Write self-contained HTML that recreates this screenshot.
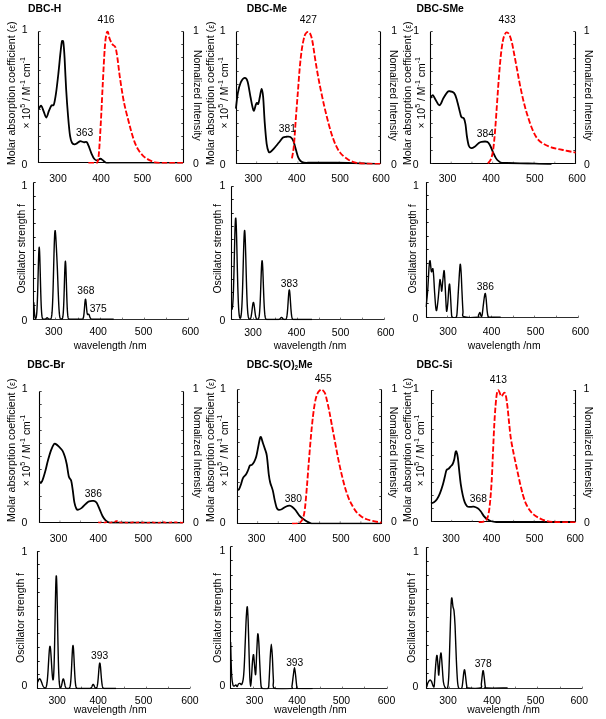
<!DOCTYPE html><html><head><meta charset="utf-8"><title>UV-vis and oscillator strength</title>
<style>html,body{margin:0;padding:0;background:#fff}svg{display:block}text{font-family:'Liberation Sans', Arial, sans-serif;fill:#000}</style></head><body>
<svg width="606" height="719" viewBox="0 0 606 719">
<rect width="606" height="719" fill="#fff"/>
<path d="M38.50 31.40 V162.50 H183.50 V31.40" fill="none" stroke="#000" stroke-width="1.1" stroke-linejoin="miter"/>
<line x1="38.50" y1="31.50" x2="40.70" y2="31.50" stroke="#222" stroke-width="0.85"/>
<line x1="183.50" y1="31.50" x2="181.30" y2="31.50" stroke="#222" stroke-width="0.85"/>
<line x1="38.50" y1="44.50" x2="40.70" y2="44.50" stroke="#222" stroke-width="0.85"/>
<line x1="183.50" y1="44.50" x2="181.30" y2="44.50" stroke="#222" stroke-width="0.85"/>
<line x1="38.50" y1="57.50" x2="40.70" y2="57.50" stroke="#222" stroke-width="0.85"/>
<line x1="183.50" y1="57.50" x2="181.30" y2="57.50" stroke="#222" stroke-width="0.85"/>
<line x1="38.50" y1="70.50" x2="40.70" y2="70.50" stroke="#222" stroke-width="0.85"/>
<line x1="183.50" y1="70.50" x2="181.30" y2="70.50" stroke="#222" stroke-width="0.85"/>
<line x1="38.50" y1="83.50" x2="40.70" y2="83.50" stroke="#222" stroke-width="0.85"/>
<line x1="183.50" y1="83.50" x2="181.30" y2="83.50" stroke="#222" stroke-width="0.85"/>
<line x1="38.50" y1="96.50" x2="40.70" y2="96.50" stroke="#222" stroke-width="0.85"/>
<line x1="183.50" y1="96.50" x2="181.30" y2="96.50" stroke="#222" stroke-width="0.85"/>
<line x1="38.50" y1="109.50" x2="40.70" y2="109.50" stroke="#222" stroke-width="0.85"/>
<line x1="183.50" y1="109.50" x2="181.30" y2="109.50" stroke="#222" stroke-width="0.85"/>
<line x1="38.50" y1="123.50" x2="40.70" y2="123.50" stroke="#222" stroke-width="0.85"/>
<line x1="183.50" y1="123.50" x2="181.30" y2="123.50" stroke="#222" stroke-width="0.85"/>
<line x1="38.50" y1="136.50" x2="40.70" y2="136.50" stroke="#222" stroke-width="0.85"/>
<line x1="183.50" y1="136.50" x2="181.30" y2="136.50" stroke="#222" stroke-width="0.85"/>
<line x1="38.50" y1="149.50" x2="40.70" y2="149.50" stroke="#222" stroke-width="0.85"/>
<line x1="183.50" y1="149.50" x2="181.30" y2="149.50" stroke="#222" stroke-width="0.85"/>
<line x1="38.50" y1="162.50" x2="40.70" y2="162.50" stroke="#222" stroke-width="0.85"/>
<line x1="183.50" y1="162.50" x2="181.30" y2="162.50" stroke="#222" stroke-width="0.85"/>
<clipPath id="c1"><rect x="37.50" y="27.40" width="147.10" height="136.20"/></clipPath>
<g clip-path="url(#c1)">
<path d="M38.89 108.73C39.28 108.24 40.42 105.32 41.23 105.81C42.04 106.29 42.92 109.70 43.76 111.65C44.61 113.60 45.42 117.65 46.29 117.49C47.17 117.33 48.14 112.69 49.02 110.67C49.90 108.66 50.74 106.46 51.55 105.42C52.36 104.38 53.14 106.49 53.89 104.44C54.63 102.40 55.28 98.28 56.03 93.15C56.78 88.02 57.65 80.17 58.37 73.68C59.08 67.19 59.76 59.40 60.31 54.21C60.86 49.01 61.32 44.73 61.68 42.52C62.03 40.32 62.16 40.90 62.45 40.97C62.75 41.03 63.07 40.06 63.43 42.91C63.79 45.77 64.14 50.38 64.60 58.10C65.05 65.83 65.57 79.52 66.15 89.26C66.74 98.99 67.45 108.73 68.10 116.52C68.75 124.30 69.40 131.61 70.05 135.99C70.70 140.37 71.25 141.41 72.00 142.80C72.74 144.20 73.72 144.26 74.53 144.36C75.34 144.46 75.92 143.91 76.86 143.39C77.80 142.87 79.04 141.44 80.17 141.24C81.31 141.05 82.61 142.09 83.68 142.22C84.75 142.35 85.79 141.44 86.60 142.02C87.41 142.61 87.74 143.81 88.55 145.72C89.36 147.64 90.49 151.31 91.47 153.51C92.44 155.72 93.41 157.81 94.39 158.96C95.36 160.12 96.34 160.49 97.31 160.46C98.28 160.43 99.26 158.77 100.23 158.77C101.20 158.77 102.18 159.79 103.15 160.46C104.12 161.13 104.77 162.37 106.07 162.77C107.37 163.18 110.13 162.88 110.94 162.90L183.10 162.90" fill="none" stroke="#000" stroke-width="1.8" stroke-linejoin="round" stroke-linecap="butt"/>
<path d="M88.38 163.00C89.65 163.00 94.48 163.10 95.97 163.00C97.47 162.90 96.85 163.97 97.34 162.38C97.82 160.80 98.31 160.18 98.89 153.51C99.48 146.84 100.19 134.04 100.84 122.36C101.49 110.67 102.14 95.75 102.79 83.41C103.44 71.08 104.15 56.48 104.74 48.37C105.32 40.25 105.77 37.49 106.29 34.74C106.81 31.98 107.30 31.17 107.85 31.82C108.40 32.46 108.82 36.52 109.60 38.63C110.38 40.74 111.55 43.01 112.52 44.47C113.50 45.93 114.62 45.05 115.45 47.39C116.27 49.73 116.79 53.73 117.50 58.50C118.21 63.27 118.82 69.75 119.70 76.00C120.58 82.25 121.87 90.60 122.80 96.00C123.73 101.40 124.32 104.12 125.30 108.40C126.28 112.68 127.65 117.65 128.70 121.70C129.75 125.75 130.55 129.13 131.60 132.70C132.65 136.27 133.85 140.22 135.00 143.10C136.15 145.98 137.15 147.88 138.50 150.00C139.85 152.12 141.37 154.15 143.10 155.80C144.83 157.45 146.97 158.84 148.90 159.93C150.83 161.01 152.78 161.79 154.70 162.30C156.62 162.81 158.52 162.88 160.40 163.00C162.28 163.12 162.13 163.00 166.00 163.00C169.87 163.00 180.67 163.00 183.60 163.00" fill="none" stroke="#f00" stroke-width="1.85" stroke-dasharray="5.6 2.1" stroke-linecap="butt" stroke-linejoin="round"/>
</g>
<text x="27.90" y="11.90" font-size="10.4" text-anchor="start" font-weight="bold" >DBC-H</text>
<text x="24.60" y="33.25" font-size="10.5" text-anchor="middle" font-weight="normal" >1</text>
<text x="24.50" y="167.85" font-size="10.5" text-anchor="middle" font-weight="normal" >0</text>
<text x="195.90" y="33.65" font-size="10.5" text-anchor="middle" font-weight="normal" >1</text>
<text x="195.80" y="167.15" font-size="10.5" text-anchor="middle" font-weight="normal" >0</text>
<text x="58.00" y="182.25" font-size="10.5" text-anchor="middle" font-weight="normal" >300</text>
<text x="101.00" y="182.25" font-size="10.5" text-anchor="middle" font-weight="normal" >400</text>
<text x="142.40" y="182.25" font-size="10.5" text-anchor="middle" font-weight="normal" >500</text>
<text x="183.40" y="182.25" font-size="10.5" text-anchor="middle" font-weight="normal" >600</text>
<text x="106.00" y="23.40" font-size="10.25" text-anchor="middle" font-weight="normal" >416</text>
<text x="84.60" y="136.00" font-size="10.25" text-anchor="middle" font-weight="normal" >363</text>
<text x="15.50" y="93.20" font-size="10.3" text-anchor="middle" font-weight="normal" transform="rotate(-90 15.50 93.20)" textLength="143.7" lengthAdjust="spacingAndGlyphs">Molar absorption coefficient (<tspan font-size="8.6">ε</tspan>)</text>
<text x="30.50" y="92.70" font-size="10.3" text-anchor="middle" font-weight="normal" transform="rotate(-90 30.50 92.70)" textLength="71.5" lengthAdjust="spacingAndGlyphs">× 10<tspan font-size="7" dy="-5.2">5</tspan><tspan dy="5.2"> / M</tspan><tspan font-size="7" dy="-5.2">-1</tspan><tspan dy="5.2"> cm</tspan><tspan font-size="7" dy="-5.2">-1</tspan></text>
<text x="194.00" y="95.30" font-size="10.3" text-anchor="middle" font-weight="normal" transform="rotate(90 194.00 95.30)" textLength="90.7" lengthAdjust="spacingAndGlyphs">Nomalized Intensity</text>
<path d="M236.50 31.80 V163.50 H380.50 V31.80" fill="none" stroke="#000" stroke-width="1.1" stroke-linejoin="miter"/>
<line x1="236.50" y1="31.50" x2="238.70" y2="31.50" stroke="#222" stroke-width="0.85"/>
<line x1="380.50" y1="31.50" x2="378.30" y2="31.50" stroke="#222" stroke-width="0.85"/>
<line x1="236.50" y1="44.50" x2="238.70" y2="44.50" stroke="#222" stroke-width="0.85"/>
<line x1="380.50" y1="44.50" x2="378.30" y2="44.50" stroke="#222" stroke-width="0.85"/>
<line x1="236.50" y1="58.50" x2="238.70" y2="58.50" stroke="#222" stroke-width="0.85"/>
<line x1="380.50" y1="58.50" x2="378.30" y2="58.50" stroke="#222" stroke-width="0.85"/>
<line x1="236.50" y1="71.50" x2="238.70" y2="71.50" stroke="#222" stroke-width="0.85"/>
<line x1="380.50" y1="71.50" x2="378.30" y2="71.50" stroke="#222" stroke-width="0.85"/>
<line x1="236.50" y1="84.50" x2="238.70" y2="84.50" stroke="#222" stroke-width="0.85"/>
<line x1="380.50" y1="84.50" x2="378.30" y2="84.50" stroke="#222" stroke-width="0.85"/>
<line x1="236.50" y1="97.50" x2="238.70" y2="97.50" stroke="#222" stroke-width="0.85"/>
<line x1="380.50" y1="97.50" x2="378.30" y2="97.50" stroke="#222" stroke-width="0.85"/>
<line x1="236.50" y1="110.50" x2="238.70" y2="110.50" stroke="#222" stroke-width="0.85"/>
<line x1="380.50" y1="110.50" x2="378.30" y2="110.50" stroke="#222" stroke-width="0.85"/>
<line x1="236.50" y1="123.50" x2="238.70" y2="123.50" stroke="#222" stroke-width="0.85"/>
<line x1="380.50" y1="123.50" x2="378.30" y2="123.50" stroke="#222" stroke-width="0.85"/>
<line x1="236.50" y1="136.50" x2="238.70" y2="136.50" stroke="#222" stroke-width="0.85"/>
<line x1="380.50" y1="136.50" x2="378.30" y2="136.50" stroke="#222" stroke-width="0.85"/>
<line x1="236.50" y1="150.50" x2="238.70" y2="150.50" stroke="#222" stroke-width="0.85"/>
<line x1="380.50" y1="150.50" x2="378.30" y2="150.50" stroke="#222" stroke-width="0.85"/>
<line x1="236.50" y1="163.50" x2="238.70" y2="163.50" stroke="#222" stroke-width="0.85"/>
<line x1="380.50" y1="163.50" x2="378.30" y2="163.50" stroke="#222" stroke-width="0.85"/>
<line x1="256.64" y1="163.20" x2="256.64" y2="161.40" stroke="#444" stroke-width="0.6"/>
<line x1="277.29" y1="163.20" x2="277.29" y2="161.40" stroke="#444" stroke-width="0.6"/>
<line x1="297.93" y1="163.20" x2="297.93" y2="161.40" stroke="#444" stroke-width="0.6"/>
<line x1="318.57" y1="163.20" x2="318.57" y2="161.40" stroke="#444" stroke-width="0.6"/>
<line x1="339.21" y1="163.20" x2="339.21" y2="161.40" stroke="#444" stroke-width="0.6"/>
<line x1="359.86" y1="163.20" x2="359.86" y2="161.40" stroke="#444" stroke-width="0.6"/>
<clipPath id="c2"><rect x="235.00" y="27.80" width="146.50" height="136.70"/></clipPath>
<g clip-path="url(#c2)">
<path d="M235.89 108.73C236.22 106.13 237.03 97.53 237.84 93.15C238.65 88.77 239.63 84.97 240.76 82.44C241.90 79.91 243.52 78.12 244.66 77.96C245.79 77.80 246.60 78.29 247.58 81.47C248.55 84.65 249.69 92.83 250.50 97.04C251.31 101.26 251.86 104.51 252.45 106.78C253.03 109.05 253.45 111.00 254.00 110.67C254.55 110.35 255.27 106.13 255.76 104.83C256.24 103.54 256.50 103.05 256.92 102.89C257.35 102.72 257.80 104.83 258.29 103.86C258.77 102.89 259.29 99.54 259.84 97.04C260.40 94.55 261.04 88.87 261.60 88.87C262.15 88.87 262.64 91.46 263.15 97.04C263.67 102.63 264.13 114.57 264.71 122.36C265.30 130.15 266.01 138.91 266.66 143.78C267.31 148.64 267.99 150.20 268.61 151.56C269.22 152.93 269.48 152.44 270.36 151.95C271.24 151.47 272.47 150.17 273.86 148.64C275.26 147.12 277.21 144.65 278.73 142.80C280.26 140.95 281.72 138.55 283.02 137.55C284.31 136.54 285.29 136.86 286.52 136.77C287.75 136.67 289.28 136.28 290.41 136.96C291.55 137.64 292.43 138.75 293.34 140.86C294.24 142.96 295.06 146.86 295.87 149.62C296.68 152.38 297.42 155.52 298.20 157.41C298.98 159.30 299.57 160.09 300.54 160.96C301.51 161.84 302.13 162.38 304.04 162.67C305.95 162.96 307.67 162.69 312.00 162.70C316.33 162.71 324.00 162.66 330.00 162.70C336.00 162.74 342.33 162.82 348.00 162.95C353.67 163.08 359.33 163.36 364.00 163.50C368.67 163.64 374.00 163.75 376.00 163.80L380.00 163.80" fill="none" stroke="#000" stroke-width="1.8" stroke-linejoin="round" stroke-linecap="butt"/>
<path d="M291.95 158.38C292.27 156.27 293.25 152.38 293.89 145.72C294.54 139.07 295.19 127.23 295.84 118.46C296.49 109.70 297.14 101.59 297.79 93.15C298.44 84.71 299.09 74.98 299.74 67.84C300.38 60.70 301.03 55.02 301.68 50.31C302.33 45.61 302.98 42.36 303.63 39.60C304.28 36.85 304.77 35.03 305.58 33.76C306.39 32.50 307.59 31.69 308.50 32.01C309.41 32.33 310.28 33.63 311.03 35.71C311.78 37.79 312.26 40.41 312.98 44.47C313.69 48.53 314.33 54.01 315.31 60.05C316.30 66.09 317.47 73.27 318.90 80.70C320.33 88.13 322.25 97.32 323.90 104.60C325.55 111.88 327.15 118.43 328.80 124.40C330.45 130.37 331.97 135.75 333.80 140.40C335.63 145.05 337.48 149.17 339.80 152.30C342.12 155.43 345.05 157.49 347.70 159.20C350.35 160.91 352.82 161.82 355.70 162.57C358.58 163.32 360.87 163.48 365.00 163.70C369.13 163.92 377.92 163.87 380.50 163.90" fill="none" stroke="#f00" stroke-width="1.85" stroke-dasharray="5.6 2.1" stroke-linecap="butt" stroke-linejoin="round"/>
</g>
<text x="246.70" y="11.90" font-size="10.4" text-anchor="start" font-weight="bold" >DBC-Me</text>
<text x="222.60" y="33.65" font-size="10.5" text-anchor="middle" font-weight="normal" >1</text>
<text x="222.60" y="167.85" font-size="10.5" text-anchor="middle" font-weight="normal" >0</text>
<text x="394.10" y="33.65" font-size="10.5" text-anchor="middle" font-weight="normal" >1</text>
<text x="393.90" y="167.75" font-size="10.5" text-anchor="middle" font-weight="normal" >0</text>
<text x="253.30" y="182.25" font-size="10.5" text-anchor="middle" font-weight="normal" >300</text>
<text x="296.80" y="182.25" font-size="10.5" text-anchor="middle" font-weight="normal" >400</text>
<text x="340.10" y="182.25" font-size="10.5" text-anchor="middle" font-weight="normal" >500</text>
<text x="381.00" y="182.25" font-size="10.5" text-anchor="middle" font-weight="normal" >600</text>
<text x="308.30" y="23.40" font-size="10.25" text-anchor="middle" font-weight="normal" >427</text>
<text x="287.30" y="132.00" font-size="10.25" text-anchor="middle" font-weight="normal" >381</text>
<text x="214.00" y="93.20" font-size="10.3" text-anchor="middle" font-weight="normal" transform="rotate(-90 214.00 93.20)" textLength="143.7" lengthAdjust="spacingAndGlyphs">Molar absorption coefficient (<tspan font-size="8.6">ε</tspan>)</text>
<text x="227.90" y="92.70" font-size="10.3" text-anchor="middle" font-weight="normal" transform="rotate(-90 227.90 92.70)" textLength="71.5" lengthAdjust="spacingAndGlyphs">× 10<tspan font-size="7" dy="-5.2">5</tspan><tspan dy="5.2"> / M</tspan><tspan font-size="7" dy="-5.2">-1</tspan><tspan dy="5.2"> cm</tspan><tspan font-size="7" dy="-5.2">-1</tspan></text>
<text x="389.70" y="95.30" font-size="10.3" text-anchor="middle" font-weight="normal" transform="rotate(90 389.70 95.30)" textLength="90.7" lengthAdjust="spacingAndGlyphs">Nomalized Intensity</text>
<path d="M430.50 31.80 V163.50 H575.50 V31.80" fill="none" stroke="#000" stroke-width="1.1" stroke-linejoin="miter"/>
<line x1="430.50" y1="31.50" x2="432.70" y2="31.50" stroke="#222" stroke-width="0.85"/>
<line x1="575.50" y1="31.50" x2="573.30" y2="31.50" stroke="#222" stroke-width="0.85"/>
<line x1="430.50" y1="44.50" x2="432.70" y2="44.50" stroke="#222" stroke-width="0.85"/>
<line x1="575.50" y1="44.50" x2="573.30" y2="44.50" stroke="#222" stroke-width="0.85"/>
<line x1="430.50" y1="58.50" x2="432.70" y2="58.50" stroke="#222" stroke-width="0.85"/>
<line x1="575.50" y1="58.50" x2="573.30" y2="58.50" stroke="#222" stroke-width="0.85"/>
<line x1="430.50" y1="71.50" x2="432.70" y2="71.50" stroke="#222" stroke-width="0.85"/>
<line x1="575.50" y1="71.50" x2="573.30" y2="71.50" stroke="#222" stroke-width="0.85"/>
<line x1="430.50" y1="84.50" x2="432.70" y2="84.50" stroke="#222" stroke-width="0.85"/>
<line x1="575.50" y1="84.50" x2="573.30" y2="84.50" stroke="#222" stroke-width="0.85"/>
<line x1="430.50" y1="97.50" x2="432.70" y2="97.50" stroke="#222" stroke-width="0.85"/>
<line x1="575.50" y1="97.50" x2="573.30" y2="97.50" stroke="#222" stroke-width="0.85"/>
<line x1="430.50" y1="110.50" x2="432.70" y2="110.50" stroke="#222" stroke-width="0.85"/>
<line x1="575.50" y1="110.50" x2="573.30" y2="110.50" stroke="#222" stroke-width="0.85"/>
<line x1="430.50" y1="123.50" x2="432.70" y2="123.50" stroke="#222" stroke-width="0.85"/>
<line x1="575.50" y1="123.50" x2="573.30" y2="123.50" stroke="#222" stroke-width="0.85"/>
<line x1="430.50" y1="137.50" x2="432.70" y2="137.50" stroke="#222" stroke-width="0.85"/>
<line x1="575.50" y1="137.50" x2="573.30" y2="137.50" stroke="#222" stroke-width="0.85"/>
<line x1="430.50" y1="150.50" x2="432.70" y2="150.50" stroke="#222" stroke-width="0.85"/>
<line x1="575.50" y1="150.50" x2="573.30" y2="150.50" stroke="#222" stroke-width="0.85"/>
<line x1="430.50" y1="163.50" x2="432.70" y2="163.50" stroke="#222" stroke-width="0.85"/>
<line x1="575.50" y1="163.50" x2="573.30" y2="163.50" stroke="#222" stroke-width="0.85"/>
<line x1="451.21" y1="163.40" x2="451.21" y2="161.60" stroke="#444" stroke-width="0.6"/>
<line x1="471.93" y1="163.40" x2="471.93" y2="161.60" stroke="#444" stroke-width="0.6"/>
<line x1="492.64" y1="163.40" x2="492.64" y2="161.60" stroke="#444" stroke-width="0.6"/>
<line x1="513.36" y1="163.40" x2="513.36" y2="161.60" stroke="#444" stroke-width="0.6"/>
<line x1="534.07" y1="163.40" x2="534.07" y2="161.60" stroke="#444" stroke-width="0.6"/>
<line x1="554.79" y1="163.40" x2="554.79" y2="161.60" stroke="#444" stroke-width="0.6"/>
<clipPath id="c3"><rect x="429.50" y="27.80" width="147.00" height="136.90"/></clipPath>
<g clip-path="url(#c3)">
<path d="M430.45 98.02C430.84 97.53 431.91 94.77 432.79 95.10C433.66 95.42 434.57 98.28 435.71 99.97C436.85 101.65 438.31 105.55 439.60 105.22C440.90 104.90 442.20 100.19 443.50 98.02C444.80 95.84 446.42 93.31 447.39 92.18C448.37 91.04 448.20 91.04 449.34 91.20C450.48 91.37 452.91 91.53 454.21 93.15C455.51 94.77 456.15 97.69 457.13 100.94C458.10 104.18 459.33 109.96 460.05 112.62C460.76 115.28 460.76 115.93 461.41 116.91C462.06 117.88 463.26 117.23 463.94 118.46C464.62 119.70 465.01 121.38 465.50 124.30C465.99 127.23 466.31 132.42 466.86 135.99C467.42 139.56 468.10 143.71 468.81 145.72C469.52 147.74 470.17 147.90 471.15 148.06C472.12 148.22 473.42 147.51 474.65 146.70C475.89 145.89 477.41 144.00 478.55 143.19C479.68 142.38 480.01 142.06 481.47 141.83C482.93 141.60 485.85 141.18 487.31 141.83C488.77 142.48 489.26 143.94 490.23 145.72C491.20 147.51 492.18 150.43 493.15 152.54C494.12 154.65 495.10 156.90 496.07 158.38C497.04 159.86 498.02 160.65 498.99 161.40C499.97 162.15 500.41 162.59 501.91 162.86C503.41 163.13 504.99 162.96 508.00 163.02C511.01 163.09 515.50 163.16 520.00 163.28C524.50 163.39 530.33 163.58 535.00 163.70C539.67 163.82 545.83 163.95 548.00 164.00L551.50 164.00" fill="none" stroke="#000" stroke-width="1.8" stroke-linejoin="round" stroke-linecap="butt"/>
<path d="M487.92 163.35C488.41 162.68 489.97 161.64 490.84 159.35C491.72 157.06 492.46 154.49 493.18 149.62C493.89 144.75 494.48 137.93 495.13 130.15C495.77 122.36 496.42 111.97 497.07 102.89C497.72 93.80 498.37 83.74 499.02 75.63C499.67 67.51 500.32 60.05 500.97 54.21C501.62 48.37 502.26 43.89 502.91 40.58C503.56 37.27 504.21 35.71 504.86 34.35C505.51 32.98 506.06 32.33 506.81 32.40C507.55 32.46 508.50 33.05 509.34 34.74C510.18 36.42 511.06 39.28 511.87 42.52C512.68 45.77 513.33 49.66 514.21 54.21C515.08 58.75 516.15 64.59 517.13 69.78C518.10 74.98 518.91 79.84 520.05 85.36C521.18 90.88 522.64 97.69 523.94 102.89C525.24 108.08 526.38 111.97 527.84 116.52C529.30 121.06 531.08 126.41 532.71 130.15C534.33 133.88 535.79 136.64 537.57 138.91C539.36 141.18 541.14 142.38 543.41 143.78C545.69 145.17 547.96 146.24 551.20 147.28C554.45 148.32 558.83 149.13 562.89 150.01C566.94 150.88 573.43 152.12 575.54 152.54" fill="none" stroke="#f00" stroke-width="1.85" stroke-dasharray="5.6 2.1" stroke-linecap="butt" stroke-linejoin="round"/>
</g>
<text x="416.50" y="11.90" font-size="10.4" text-anchor="start" font-weight="bold" >DBC-SMe</text>
<text x="416.10" y="33.65" font-size="10.5" text-anchor="middle" font-weight="normal" >1</text>
<text x="415.60" y="167.85" font-size="10.5" text-anchor="middle" font-weight="normal" >0</text>
<text x="586.70" y="33.65" font-size="10.5" text-anchor="middle" font-weight="normal" >1</text>
<text x="586.80" y="167.75" font-size="10.5" text-anchor="middle" font-weight="normal" >0</text>
<text x="447.50" y="182.25" font-size="10.5" text-anchor="middle" font-weight="normal" >300</text>
<text x="491.00" y="182.25" font-size="10.5" text-anchor="middle" font-weight="normal" >400</text>
<text x="534.80" y="182.25" font-size="10.5" text-anchor="middle" font-weight="normal" >500</text>
<text x="577.00" y="182.25" font-size="10.5" text-anchor="middle" font-weight="normal" >600</text>
<text x="507.10" y="22.60" font-size="10.25" text-anchor="middle" font-weight="normal" >433</text>
<text x="485.30" y="136.80" font-size="10.25" text-anchor="middle" font-weight="normal" >384</text>
<text x="410.60" y="93.20" font-size="10.3" text-anchor="middle" font-weight="normal" transform="rotate(-90 410.60 93.20)" textLength="143.7" lengthAdjust="spacingAndGlyphs">Molar absorption coefficient (<tspan font-size="8.6">ε</tspan>)</text>
<text x="425.20" y="92.70" font-size="10.3" text-anchor="middle" font-weight="normal" transform="rotate(-90 425.20 92.70)" textLength="71.5" lengthAdjust="spacingAndGlyphs">× 10<tspan font-size="7" dy="-5.2">5</tspan><tspan dy="5.2"> / M</tspan><tspan font-size="7" dy="-5.2">-1</tspan><tspan dy="5.2"> cm</tspan><tspan font-size="7" dy="-5.2">-1</tspan></text>
<text x="585.40" y="95.30" font-size="10.3" text-anchor="middle" font-weight="normal" transform="rotate(90 585.40 95.30)" textLength="90.7" lengthAdjust="spacingAndGlyphs">Nomalized Intensity</text>
<path d="M39.50 391.40 V522.50 H183.50 V391.40" fill="none" stroke="#000" stroke-width="1.1" stroke-linejoin="miter"/>
<line x1="39.50" y1="391.50" x2="41.70" y2="391.50" stroke="#222" stroke-width="0.85"/>
<line x1="183.50" y1="391.50" x2="181.30" y2="391.50" stroke="#222" stroke-width="0.85"/>
<line x1="39.50" y1="404.50" x2="41.70" y2="404.50" stroke="#222" stroke-width="0.85"/>
<line x1="183.50" y1="404.50" x2="181.30" y2="404.50" stroke="#222" stroke-width="0.85"/>
<line x1="39.50" y1="417.50" x2="41.70" y2="417.50" stroke="#222" stroke-width="0.85"/>
<line x1="183.50" y1="417.50" x2="181.30" y2="417.50" stroke="#222" stroke-width="0.85"/>
<line x1="39.50" y1="430.50" x2="41.70" y2="430.50" stroke="#222" stroke-width="0.85"/>
<line x1="183.50" y1="430.50" x2="181.30" y2="430.50" stroke="#222" stroke-width="0.85"/>
<line x1="39.50" y1="443.50" x2="41.70" y2="443.50" stroke="#222" stroke-width="0.85"/>
<line x1="183.50" y1="443.50" x2="181.30" y2="443.50" stroke="#222" stroke-width="0.85"/>
<line x1="39.50" y1="456.50" x2="41.70" y2="456.50" stroke="#222" stroke-width="0.85"/>
<line x1="183.50" y1="456.50" x2="181.30" y2="456.50" stroke="#222" stroke-width="0.85"/>
<line x1="39.50" y1="469.50" x2="41.70" y2="469.50" stroke="#222" stroke-width="0.85"/>
<line x1="183.50" y1="469.50" x2="181.30" y2="469.50" stroke="#222" stroke-width="0.85"/>
<line x1="39.50" y1="483.50" x2="41.70" y2="483.50" stroke="#222" stroke-width="0.85"/>
<line x1="183.50" y1="483.50" x2="181.30" y2="483.50" stroke="#222" stroke-width="0.85"/>
<line x1="39.50" y1="496.50" x2="41.70" y2="496.50" stroke="#222" stroke-width="0.85"/>
<line x1="183.50" y1="496.50" x2="181.30" y2="496.50" stroke="#222" stroke-width="0.85"/>
<line x1="39.50" y1="509.50" x2="41.70" y2="509.50" stroke="#222" stroke-width="0.85"/>
<line x1="183.50" y1="509.50" x2="181.30" y2="509.50" stroke="#222" stroke-width="0.85"/>
<line x1="39.50" y1="522.50" x2="41.70" y2="522.50" stroke="#222" stroke-width="0.85"/>
<line x1="183.50" y1="522.50" x2="181.30" y2="522.50" stroke="#222" stroke-width="0.85"/>
<line x1="59.94" y1="522.30" x2="59.94" y2="520.50" stroke="#444" stroke-width="0.6"/>
<line x1="80.49" y1="522.30" x2="80.49" y2="520.50" stroke="#444" stroke-width="0.6"/>
<line x1="101.03" y1="522.30" x2="101.03" y2="520.50" stroke="#444" stroke-width="0.6"/>
<line x1="121.57" y1="522.30" x2="121.57" y2="520.50" stroke="#444" stroke-width="0.6"/>
<line x1="142.11" y1="522.30" x2="142.11" y2="520.50" stroke="#444" stroke-width="0.6"/>
<line x1="162.66" y1="522.30" x2="162.66" y2="520.50" stroke="#444" stroke-width="0.6"/>
<clipPath id="c4"><rect x="38.40" y="387.40" width="145.80" height="136.20"/></clipPath>
<g clip-path="url(#c4)">
<path d="M39.38 482.06C39.81 481.96 41.03 483.05 41.96 481.46C42.89 479.87 43.95 475.99 44.94 472.51C45.94 469.03 46.93 464.22 47.93 460.58C48.92 456.93 49.92 453.35 50.91 450.63C51.91 447.91 53.07 445.36 53.89 444.27C54.72 443.17 55.05 443.67 55.88 444.07C56.71 444.47 57.77 445.56 58.87 446.66C59.96 447.75 61.45 448.98 62.45 450.63C63.44 452.29 64.10 454.28 64.83 456.60C65.56 458.92 66.16 461.24 66.82 464.55C67.48 467.87 68.08 473.77 68.81 476.49C69.54 479.21 70.53 478.54 71.20 480.86C71.86 483.18 72.26 486.83 72.79 490.41C73.32 493.99 73.78 499.29 74.38 502.34C74.98 505.39 75.71 507.48 76.37 508.71C77.03 509.93 77.46 509.83 78.36 509.70C79.25 509.57 80.51 508.87 81.74 507.91C82.96 506.95 84.49 505.03 85.72 503.93C86.94 502.84 87.77 501.85 89.10 501.35C90.42 500.85 92.41 500.72 93.67 500.95C94.93 501.18 95.66 501.35 96.66 502.74C97.65 504.13 98.64 507.05 99.64 509.30C100.63 511.56 101.63 514.42 102.62 516.27C103.62 518.11 104.61 519.34 105.61 520.35C106.60 521.37 107.43 521.94 108.59 522.33C109.75 522.73 109.81 522.67 112.57 522.73C115.32 522.80 123.01 522.73 125.10 522.73L182.70 522.90" fill="none" stroke="#000" stroke-width="1.8" stroke-linejoin="round" stroke-linecap="butt"/>
<path d="M98.20 522.34C98.48 522.38 99.33 522.57 99.90 522.59C100.47 522.60 101.03 522.44 101.60 522.45C102.17 522.45 102.73 522.60 103.30 522.63C103.87 522.67 104.43 522.73 105.00 522.65C105.57 522.57 106.13 522.27 106.70 522.18C107.27 522.09 107.83 522.02 108.40 522.13C108.97 522.23 109.53 522.78 110.10 522.82C110.67 522.86 111.23 522.44 111.80 522.36C112.37 522.28 112.93 522.46 113.50 522.34C114.07 522.21 114.63 521.82 115.20 521.61C115.77 521.40 116.33 520.88 116.90 521.08C117.47 521.28 118.03 522.58 118.60 522.82C119.17 523.06 119.73 522.56 120.30 522.53C120.87 522.50 121.43 522.71 122.00 522.66C122.57 522.62 123.13 522.26 123.70 522.26C124.27 522.26 124.83 522.56 125.40 522.66C125.97 522.75 126.53 522.86 127.10 522.84C127.67 522.83 128.23 522.59 128.80 522.57C129.37 522.55 129.93 522.72 130.50 522.74C131.07 522.76 131.63 522.78 132.20 522.69C132.77 522.59 133.33 522.16 133.90 522.18C134.47 522.19 135.03 522.68 135.60 522.76C136.17 522.83 136.73 522.68 137.30 522.62C137.87 522.56 138.43 522.47 139.00 522.39C139.57 522.31 140.13 522.07 140.70 522.14C141.27 522.22 141.83 522.78 142.40 522.84C142.97 522.91 143.53 522.55 144.10 522.53C144.67 522.51 145.23 522.67 145.80 522.73C146.37 522.78 146.93 522.85 147.50 522.85C148.07 522.85 148.63 522.72 149.20 522.72C149.77 522.73 150.33 522.93 150.90 522.89C151.47 522.84 152.03 522.48 152.60 522.47C153.17 522.45 153.73 522.78 154.30 522.79C154.87 522.80 155.43 522.49 156.00 522.51C156.57 522.52 157.13 522.84 157.70 522.90C158.27 522.96 158.83 522.97 159.40 522.85C159.97 522.74 160.53 522.31 161.10 522.21C161.67 522.11 162.23 522.23 162.80 522.25C163.37 522.27 163.93 522.21 164.50 522.32C165.07 522.44 165.63 522.89 166.20 522.92C166.77 522.95 167.33 522.54 167.90 522.50C168.47 522.45 169.03 522.67 169.60 522.65C170.17 522.63 170.73 522.41 171.30 522.39C171.87 522.37 172.43 522.54 173.00 522.56C173.57 522.57 174.13 522.48 174.70 522.46C175.27 522.44 175.83 522.40 176.40 522.43C176.97 522.46 177.53 522.59 178.10 522.62C178.67 522.65 179.23 522.57 179.80 522.62C180.37 522.66 180.93 522.86 181.50 522.87C182.07 522.89 182.92 522.73 183.20 522.70" fill="none" stroke="#f00" stroke-width="1.8" stroke-dasharray="3.2 2.4" stroke-linecap="butt" stroke-linejoin="round"/>
</g>
<text x="27.30" y="368.10" font-size="10.4" text-anchor="start" font-weight="bold" >DBC-Br</text>
<text x="24.60" y="391.95" font-size="10.5" text-anchor="middle" font-weight="normal" >1</text>
<text x="24.50" y="526.35" font-size="10.5" text-anchor="middle" font-weight="normal" >0</text>
<text x="195.70" y="391.75" font-size="10.5" text-anchor="middle" font-weight="normal" >1</text>
<text x="195.80" y="525.55" font-size="10.5" text-anchor="middle" font-weight="normal" >0</text>
<text x="58.50" y="541.55" font-size="10.5" text-anchor="middle" font-weight="normal" >300</text>
<text x="98.30" y="541.55" font-size="10.5" text-anchor="middle" font-weight="normal" >400</text>
<text x="143.30" y="541.55" font-size="10.5" text-anchor="middle" font-weight="normal" >500</text>
<text x="183.40" y="541.55" font-size="10.5" text-anchor="middle" font-weight="normal" >600</text>
<text x="93.30" y="496.80" font-size="10.25" text-anchor="middle" font-weight="normal" >386</text>
<text x="14.90" y="450.20" font-size="10.3" text-anchor="middle" font-weight="normal" transform="rotate(-90 14.90 450.20)" textLength="143.5" lengthAdjust="spacingAndGlyphs">Molar absorption coefficient (<tspan font-size="8.6">ε</tspan>)</text>
<text x="29.80" y="450.60" font-size="10.3" text-anchor="middle" font-weight="normal" transform="rotate(-90 29.80 450.60)" textLength="71.5" lengthAdjust="spacingAndGlyphs">× 10<tspan font-size="7" dy="-5.2">5</tspan><tspan dy="5.2"> / M</tspan><tspan font-size="7" dy="-5.2">-1</tspan><tspan dy="5.2"> cm</tspan><tspan font-size="7" dy="-5.2">-1</tspan></text>
<text x="194.10" y="452.20" font-size="10.3" text-anchor="middle" font-weight="normal" transform="rotate(90 194.10 452.20)" textLength="91" lengthAdjust="spacingAndGlyphs">Nomalized Intensity</text>
<path d="M237.50 389.50 V523.50 H381.50 V389.50" fill="none" stroke="#000" stroke-width="1.1" stroke-linejoin="miter"/>
<line x1="237.50" y1="389.50" x2="239.70" y2="389.50" stroke="#222" stroke-width="0.85"/>
<line x1="381.50" y1="389.50" x2="379.30" y2="389.50" stroke="#222" stroke-width="0.85"/>
<line x1="237.50" y1="402.50" x2="239.70" y2="402.50" stroke="#222" stroke-width="0.85"/>
<line x1="381.50" y1="402.50" x2="379.30" y2="402.50" stroke="#222" stroke-width="0.85"/>
<line x1="237.50" y1="416.50" x2="239.70" y2="416.50" stroke="#222" stroke-width="0.85"/>
<line x1="381.50" y1="416.50" x2="379.30" y2="416.50" stroke="#222" stroke-width="0.85"/>
<line x1="237.50" y1="429.50" x2="239.70" y2="429.50" stroke="#222" stroke-width="0.85"/>
<line x1="381.50" y1="429.50" x2="379.30" y2="429.50" stroke="#222" stroke-width="0.85"/>
<line x1="237.50" y1="442.50" x2="239.70" y2="442.50" stroke="#222" stroke-width="0.85"/>
<line x1="381.50" y1="442.50" x2="379.30" y2="442.50" stroke="#222" stroke-width="0.85"/>
<line x1="237.50" y1="456.50" x2="239.70" y2="456.50" stroke="#222" stroke-width="0.85"/>
<line x1="381.50" y1="456.50" x2="379.30" y2="456.50" stroke="#222" stroke-width="0.85"/>
<line x1="237.50" y1="469.50" x2="239.70" y2="469.50" stroke="#222" stroke-width="0.85"/>
<line x1="381.50" y1="469.50" x2="379.30" y2="469.50" stroke="#222" stroke-width="0.85"/>
<line x1="237.50" y1="482.50" x2="239.70" y2="482.50" stroke="#222" stroke-width="0.85"/>
<line x1="381.50" y1="482.50" x2="379.30" y2="482.50" stroke="#222" stroke-width="0.85"/>
<line x1="237.50" y1="496.50" x2="239.70" y2="496.50" stroke="#222" stroke-width="0.85"/>
<line x1="381.50" y1="496.50" x2="379.30" y2="496.50" stroke="#222" stroke-width="0.85"/>
<line x1="237.50" y1="509.50" x2="239.70" y2="509.50" stroke="#222" stroke-width="0.85"/>
<line x1="381.50" y1="509.50" x2="379.30" y2="509.50" stroke="#222" stroke-width="0.85"/>
<line x1="237.50" y1="523.50" x2="239.70" y2="523.50" stroke="#222" stroke-width="0.85"/>
<line x1="381.50" y1="523.50" x2="379.30" y2="523.50" stroke="#222" stroke-width="0.85"/>
<line x1="257.64" y1="523.00" x2="257.64" y2="521.20" stroke="#444" stroke-width="0.6"/>
<line x1="278.29" y1="523.00" x2="278.29" y2="521.20" stroke="#444" stroke-width="0.6"/>
<line x1="298.93" y1="523.00" x2="298.93" y2="521.20" stroke="#444" stroke-width="0.6"/>
<line x1="319.57" y1="523.00" x2="319.57" y2="521.20" stroke="#444" stroke-width="0.6"/>
<line x1="340.21" y1="523.00" x2="340.21" y2="521.20" stroke="#444" stroke-width="0.6"/>
<line x1="360.86" y1="523.00" x2="360.86" y2="521.20" stroke="#444" stroke-width="0.6"/>
<clipPath id="c5"><rect x="236.00" y="385.50" width="146.50" height="138.80"/></clipPath>
<g clip-path="url(#c5)">
<path d="M236.97 489.40C237.30 489.40 238.30 490.23 238.96 489.40C239.62 488.58 240.29 486.32 240.95 484.43C241.61 482.54 242.11 479.73 242.94 478.07C243.77 476.41 245.09 475.75 245.92 474.49C246.75 473.23 247.25 472.00 247.91 470.51C248.57 469.02 249.24 466.47 249.90 465.54C250.56 464.61 251.16 465.60 251.89 464.94C252.62 464.28 253.55 462.95 254.28 461.56C255.00 460.17 255.60 459.07 256.26 456.59C256.93 454.10 257.66 449.63 258.25 446.64C258.85 443.66 259.38 440.28 259.84 438.69C260.31 437.10 260.54 436.43 261.04 437.10C261.53 437.76 262.20 440.74 262.83 442.67C263.46 444.59 264.15 446.48 264.82 448.63C265.48 450.79 266.14 451.28 266.81 455.59C267.47 459.90 268.23 470.01 268.79 474.49C269.36 478.96 269.52 479.79 270.19 482.44C270.85 485.10 272.01 487.42 272.77 490.40C273.53 493.38 274.10 497.43 274.76 500.34C275.42 503.26 276.09 506.31 276.75 507.90C277.41 509.49 277.91 509.66 278.74 509.89C279.57 510.12 280.56 509.82 281.72 509.29C282.88 508.76 284.37 507.30 285.70 506.71C287.03 506.11 288.52 505.61 289.68 505.71C290.84 505.81 291.67 506.54 292.66 507.30C293.66 508.07 294.48 508.86 295.64 510.29C296.80 511.71 298.30 514.37 299.62 515.86C300.95 517.35 302.27 518.23 303.60 519.24C304.93 520.25 306.25 521.19 307.58 521.91C308.90 522.62 310.23 523.23 311.55 523.52C312.88 523.80 313.78 523.59 315.53 523.60C317.29 523.61 321.00 523.60 322.10 523.60L381.00 523.60" fill="none" stroke="#000" stroke-width="1.8" stroke-linejoin="round" stroke-linecap="butt"/>
<path d="M292.02 523.70C292.51 523.70 293.67 523.87 295.00 523.70C296.33 523.53 298.65 523.56 299.97 522.65C301.30 521.74 302.13 520.64 302.96 518.24C303.78 515.85 304.28 513.60 304.94 508.30C305.61 503.00 306.27 494.38 306.93 486.42C307.60 478.47 308.26 468.85 308.92 460.57C309.59 452.28 310.25 443.99 310.91 436.70C311.57 429.41 312.24 422.45 312.90 416.81C313.56 411.18 314.23 406.54 314.89 402.89C315.55 399.24 316.15 396.92 316.88 394.93C317.61 392.94 318.44 391.85 319.26 390.96C320.09 390.06 320.92 389.23 321.85 389.56C322.78 389.89 324.00 391.22 324.83 392.94C325.66 394.67 326.09 396.92 326.82 399.91C327.55 402.89 328.38 406.70 329.21 410.84C330.04 414.99 330.87 419.79 331.79 424.77C332.72 429.74 333.78 435.37 334.78 440.68C335.77 445.98 336.77 451.62 337.76 456.59C338.76 461.56 339.58 465.54 340.74 470.51C341.90 475.48 343.40 481.78 344.72 486.42C346.05 491.06 347.37 495.04 348.70 498.35C350.03 501.67 351.35 503.99 352.68 506.31C354.00 508.63 355.16 510.55 356.66 512.28C358.15 514.00 359.97 515.49 361.63 516.65C363.28 517.81 364.78 518.53 366.60 519.24C368.42 519.95 370.08 520.34 372.57 520.91C375.05 521.48 380.02 522.36 381.52 522.65" fill="none" stroke="#f00" stroke-width="1.85" stroke-dasharray="5.6 2.1" stroke-linecap="butt" stroke-linejoin="round"/>
</g>
<text x="246.70" y="368.10" font-size="10.4" text-anchor="start" font-weight="bold" >DBC-S(O)<tspan font-size="6.5" dy="2">2</tspan><tspan dy="-2">Me</tspan></text>
<text x="223.00" y="391.75" font-size="10.5" text-anchor="middle" font-weight="normal" >1</text>
<text x="222.60" y="525.85" font-size="10.5" text-anchor="middle" font-weight="normal" >0</text>
<text x="394.40" y="391.75" font-size="10.5" text-anchor="middle" font-weight="normal" >1</text>
<text x="394.00" y="525.45" font-size="10.5" text-anchor="middle" font-weight="normal" >0</text>
<text x="256.50" y="541.55" font-size="10.5" text-anchor="middle" font-weight="normal" >300</text>
<text x="297.30" y="541.55" font-size="10.5" text-anchor="middle" font-weight="normal" >400</text>
<text x="340.90" y="541.55" font-size="10.5" text-anchor="middle" font-weight="normal" >500</text>
<text x="381.50" y="541.55" font-size="10.5" text-anchor="middle" font-weight="normal" >600</text>
<text x="323.20" y="382.40" font-size="10.25" text-anchor="middle" font-weight="normal" >455</text>
<text x="293.30" y="501.80" font-size="10.25" text-anchor="middle" font-weight="normal" >380</text>
<text x="214.40" y="450.20" font-size="10.3" text-anchor="middle" font-weight="normal" transform="rotate(-90 214.40 450.20)" textLength="143.5" lengthAdjust="spacingAndGlyphs">Molar absorption coefficient (<tspan font-size="8.6">ε</tspan>)</text>
<text x="227.70" y="450.60" font-size="10.3" text-anchor="middle" font-weight="normal" transform="rotate(-90 227.70 450.60)" textLength="71.5" lengthAdjust="spacingAndGlyphs">× 10<tspan font-size="7" dy="-5.2">5</tspan><tspan dy="5.2"> / M</tspan><tspan font-size="7" dy="-5.2">-1</tspan><tspan dy="5.2"> cm</tspan><tspan font-size="7" dy="-5.2">-1</tspan></text>
<text x="389.70" y="452.20" font-size="10.3" text-anchor="middle" font-weight="normal" transform="rotate(90 389.70 452.20)" textLength="91" lengthAdjust="spacingAndGlyphs">Nomalized Intensity</text>
<path d="M431.50 390.10 V521.50 H575.50 V390.10" fill="none" stroke="#000" stroke-width="1.1" stroke-linejoin="miter"/>
<line x1="431.50" y1="390.50" x2="433.70" y2="390.50" stroke="#222" stroke-width="0.85"/>
<line x1="575.50" y1="390.50" x2="573.30" y2="390.50" stroke="#222" stroke-width="0.85"/>
<line x1="431.50" y1="403.50" x2="433.70" y2="403.50" stroke="#222" stroke-width="0.85"/>
<line x1="575.50" y1="403.50" x2="573.30" y2="403.50" stroke="#222" stroke-width="0.85"/>
<line x1="431.50" y1="416.50" x2="433.70" y2="416.50" stroke="#222" stroke-width="0.85"/>
<line x1="575.50" y1="416.50" x2="573.30" y2="416.50" stroke="#222" stroke-width="0.85"/>
<line x1="431.50" y1="429.50" x2="433.70" y2="429.50" stroke="#222" stroke-width="0.85"/>
<line x1="575.50" y1="429.50" x2="573.30" y2="429.50" stroke="#222" stroke-width="0.85"/>
<line x1="431.50" y1="442.50" x2="433.70" y2="442.50" stroke="#222" stroke-width="0.85"/>
<line x1="575.50" y1="442.50" x2="573.30" y2="442.50" stroke="#222" stroke-width="0.85"/>
<line x1="431.50" y1="455.50" x2="433.70" y2="455.50" stroke="#222" stroke-width="0.85"/>
<line x1="575.50" y1="455.50" x2="573.30" y2="455.50" stroke="#222" stroke-width="0.85"/>
<line x1="431.50" y1="469.50" x2="433.70" y2="469.50" stroke="#222" stroke-width="0.85"/>
<line x1="575.50" y1="469.50" x2="573.30" y2="469.50" stroke="#222" stroke-width="0.85"/>
<line x1="431.50" y1="482.50" x2="433.70" y2="482.50" stroke="#222" stroke-width="0.85"/>
<line x1="575.50" y1="482.50" x2="573.30" y2="482.50" stroke="#222" stroke-width="0.85"/>
<line x1="431.50" y1="495.50" x2="433.70" y2="495.50" stroke="#222" stroke-width="0.85"/>
<line x1="575.50" y1="495.50" x2="573.30" y2="495.50" stroke="#222" stroke-width="0.85"/>
<line x1="431.50" y1="508.50" x2="433.70" y2="508.50" stroke="#222" stroke-width="0.85"/>
<line x1="575.50" y1="508.50" x2="573.30" y2="508.50" stroke="#222" stroke-width="0.85"/>
<line x1="431.50" y1="521.50" x2="433.70" y2="521.50" stroke="#222" stroke-width="0.85"/>
<line x1="575.50" y1="521.50" x2="573.30" y2="521.50" stroke="#222" stroke-width="0.85"/>
<line x1="451.64" y1="521.70" x2="451.64" y2="519.90" stroke="#444" stroke-width="0.6"/>
<line x1="472.29" y1="521.70" x2="472.29" y2="519.90" stroke="#444" stroke-width="0.6"/>
<line x1="492.93" y1="521.70" x2="492.93" y2="519.90" stroke="#444" stroke-width="0.6"/>
<line x1="513.57" y1="521.70" x2="513.57" y2="519.90" stroke="#444" stroke-width="0.6"/>
<line x1="534.21" y1="521.70" x2="534.21" y2="519.90" stroke="#444" stroke-width="0.6"/>
<line x1="554.86" y1="521.70" x2="554.86" y2="519.90" stroke="#444" stroke-width="0.6"/>
<clipPath id="c6"><rect x="430.00" y="386.10" width="146.50" height="136.90"/></clipPath>
<g clip-path="url(#c6)">
<path d="M430.97 503.33C431.46 503.16 432.96 503.00 433.95 502.33C434.94 501.67 435.94 500.84 436.93 499.35C437.93 497.86 438.92 495.87 439.92 493.38C440.91 490.90 442.07 487.25 442.90 484.43C443.73 481.61 444.29 478.86 444.89 476.48C445.49 474.09 445.88 471.37 446.48 470.11C447.08 468.85 447.81 469.52 448.47 468.92C449.13 468.32 449.79 467.26 450.46 466.53C451.12 465.80 451.82 465.70 452.45 464.54C453.08 463.38 453.74 461.56 454.24 459.57C454.73 457.58 455.07 453.94 455.43 452.61C455.79 451.28 456.03 450.79 456.42 451.62C456.82 452.44 457.35 454.43 457.82 457.58C458.28 460.73 458.71 466.04 459.21 470.51C459.71 474.99 460.20 480.29 460.80 484.43C461.40 488.58 462.13 492.39 462.79 495.37C463.45 498.35 464.05 500.51 464.78 502.33C465.51 504.16 466.34 505.55 467.16 506.31C467.99 507.07 468.66 506.84 469.75 506.91C470.84 506.97 472.40 506.48 473.73 506.71C475.05 506.94 476.54 507.54 477.71 508.30C478.87 509.06 479.69 510.02 480.69 511.28C481.68 512.54 482.68 514.60 483.67 515.86C484.67 517.12 485.49 517.98 486.66 518.84C487.82 519.70 488.98 520.44 490.63 520.99C492.29 521.53 492.52 521.91 496.60 522.12C500.68 522.34 507.14 522.27 515.10 522.30C523.05 522.33 539.46 522.30 544.33 522.30L575.00 522.30" fill="none" stroke="#000" stroke-width="1.8" stroke-linejoin="round" stroke-linecap="butt"/>
<path d="M478.70 522.32C479.69 522.14 483.17 522.08 484.67 521.24C486.16 520.39 486.82 519.74 487.65 517.25C488.48 514.76 488.98 512.11 489.64 506.31C490.30 500.51 491.03 491.39 491.59 482.44C492.15 473.49 492.52 462.55 492.98 452.61C493.45 442.67 493.88 431.40 494.38 422.78C494.87 414.16 495.47 406.14 495.97 400.90C496.46 395.66 496.86 393.01 497.36 391.35C497.86 389.70 498.35 390.19 498.95 390.96C499.55 391.72 500.38 395.20 500.94 395.93C501.50 396.66 501.77 395.89 502.33 395.33C502.89 394.77 503.72 392.45 504.32 392.55C504.92 392.65 505.38 393.54 505.91 395.93C506.44 398.31 507.00 402.72 507.50 406.87C508.00 411.01 508.33 415.48 508.89 420.79C509.46 426.09 510.05 433.05 510.88 438.69C511.71 444.32 512.87 449.63 513.87 454.60C514.86 459.57 515.86 463.88 516.85 468.52C517.84 473.16 518.84 478.13 519.83 482.44C520.83 486.75 521.82 490.90 522.82 494.38C523.81 497.86 524.64 500.68 525.80 503.33C526.96 505.98 528.45 508.40 529.78 510.29C531.10 512.18 532.26 513.40 533.76 514.66C535.25 515.92 536.90 516.87 538.73 517.85C540.55 518.82 542.21 519.81 544.69 520.49C547.18 521.17 548.51 521.62 553.64 521.93C558.78 522.23 571.88 522.26 575.52 522.32" fill="none" stroke="#f00" stroke-width="1.85" stroke-dasharray="5.6 2.1" stroke-linecap="butt" stroke-linejoin="round"/>
</g>
<text x="416.50" y="368.10" font-size="10.4" text-anchor="start" font-weight="bold" >DBC-Si</text>
<text x="415.80" y="391.75" font-size="10.5" text-anchor="middle" font-weight="normal" >1</text>
<text x="415.30" y="525.85" font-size="10.5" text-anchor="middle" font-weight="normal" >0</text>
<text x="586.50" y="391.75" font-size="10.5" text-anchor="middle" font-weight="normal" >1</text>
<text x="586.80" y="526.05" font-size="10.5" text-anchor="middle" font-weight="normal" >0</text>
<text x="451.00" y="541.55" font-size="10.5" text-anchor="middle" font-weight="normal" >300</text>
<text x="491.50" y="541.55" font-size="10.5" text-anchor="middle" font-weight="normal" >400</text>
<text x="534.50" y="541.55" font-size="10.5" text-anchor="middle" font-weight="normal" >500</text>
<text x="575.20" y="541.55" font-size="10.5" text-anchor="middle" font-weight="normal" >600</text>
<text x="498.40" y="382.80" font-size="10.25" text-anchor="middle" font-weight="normal" >413</text>
<text x="478.30" y="501.80" font-size="10.25" text-anchor="middle" font-weight="normal" >368</text>
<text x="410.60" y="450.00" font-size="10.3" text-anchor="middle" font-weight="normal" transform="rotate(-90 410.60 450.00)" textLength="144" lengthAdjust="spacingAndGlyphs">Molar absorption coefficient (<tspan font-size="8.6">ε</tspan>)</text>
<text x="424.50" y="450.60" font-size="10.3" text-anchor="middle" font-weight="normal" transform="rotate(-90 424.50 450.60)" textLength="71.5" lengthAdjust="spacingAndGlyphs">× 10<tspan font-size="7" dy="-5.2">5</tspan><tspan dy="5.2"> / M</tspan><tspan font-size="7" dy="-5.2">-1</tspan><tspan dy="5.2"> cm</tspan><tspan font-size="7" dy="-5.2">-1</tspan></text>
<text x="585.40" y="452.20" font-size="10.3" text-anchor="middle" font-weight="normal" transform="rotate(90 585.40 452.20)" textLength="91" lengthAdjust="spacingAndGlyphs">Nomalized Intensity</text>
<path d="M33.50 182.50 V320.00" fill="none" stroke="#000" stroke-width="1.1"/>
<path d="M33.00 319.50 H188.70" fill="none" stroke="#222" stroke-width="0.95"/>
<clipPath id="c7"><rect x="33.20" y="178.50" width="156.90" height="141.35"/></clipPath>
<line x1="33.50" y1="182.50" x2="35.70" y2="182.50" stroke="#000" stroke-width="0.9"/>
<line x1="33.50" y1="196.50" x2="35.70" y2="196.50" stroke="#000" stroke-width="0.9"/>
<line x1="33.50" y1="209.50" x2="35.70" y2="209.50" stroke="#000" stroke-width="0.9"/>
<line x1="33.50" y1="223.50" x2="35.70" y2="223.50" stroke="#000" stroke-width="0.9"/>
<line x1="33.50" y1="237.50" x2="35.70" y2="237.50" stroke="#000" stroke-width="0.9"/>
<line x1="33.50" y1="250.50" x2="35.70" y2="250.50" stroke="#000" stroke-width="0.9"/>
<line x1="33.50" y1="264.50" x2="35.70" y2="264.50" stroke="#000" stroke-width="0.9"/>
<line x1="33.50" y1="278.50" x2="35.70" y2="278.50" stroke="#000" stroke-width="0.9"/>
<line x1="33.50" y1="291.50" x2="35.70" y2="291.50" stroke="#000" stroke-width="0.9"/>
<line x1="33.50" y1="305.50" x2="35.70" y2="305.50" stroke="#000" stroke-width="0.9"/>
<line x1="33.50" y1="319.50" x2="35.70" y2="319.50" stroke="#000" stroke-width="0.9"/>
<line x1="55.50" y1="319.50" x2="55.50" y2="317.60" stroke="#555" stroke-width="0.8"/>
<line x1="78.50" y1="319.50" x2="78.50" y2="317.60" stroke="#555" stroke-width="0.8"/>
<line x1="100.50" y1="319.50" x2="100.50" y2="317.60" stroke="#555" stroke-width="0.8"/>
<line x1="122.50" y1="319.50" x2="122.50" y2="317.60" stroke="#555" stroke-width="0.8"/>
<line x1="144.50" y1="319.50" x2="144.50" y2="317.60" stroke="#555" stroke-width="0.8"/>
<line x1="166.50" y1="319.50" x2="166.50" y2="317.60" stroke="#555" stroke-width="0.8"/>
<line x1="188.50" y1="319.50" x2="188.50" y2="317.60" stroke="#555" stroke-width="0.8"/>
<path clip-path="url(#c7)" d="M33.80 302.28L34.00 306.05L34.20 309.44L34.40 312.28L34.60 314.51L34.80 316.15L35.00 317.28L35.20 318.00L35.40 318.39L35.60 318.51L35.80 318.40L36.00 318.03L36.20 317.35L36.40 316.27L36.60 314.66L36.80 312.37L37.00 309.25L37.20 305.16L37.40 300.03L37.60 293.88L37.81 286.83L38.01 279.16L38.21 271.27L38.41 263.69L38.61 256.99L38.81 251.73L39.01 248.40L39.21 247.30L39.41 248.55L39.61 252.03L39.81 257.40L40.01 264.18L40.21 271.80L40.41 279.69L40.61 287.33L40.81 294.33L41.01 300.41L41.21 305.47L41.41 309.49L41.61 312.56L41.81 314.80L42.01 316.38L42.21 317.45L42.41 318.15L42.61 318.59L42.81 318.86L43.01 319.01L43.21 319.10L43.41 319.15L43.61 319.18L43.81 319.19L44.01 319.19L44.21 319.19L44.41 319.19L44.61 319.18L44.81 319.16L45.01 319.13L45.21 319.08L45.41 319.00L45.61 318.90L45.82 318.75L46.02 318.58L46.22 318.39L46.42 318.19L46.62 318.01L46.82 317.88L47.02 317.81L47.22 317.81L47.42 317.89L47.62 318.04L47.82 318.22L48.02 318.42L48.22 318.61L48.42 318.78L48.62 318.92L48.82 319.02L49.02 319.09L49.22 319.13L49.42 319.16L49.62 319.17L49.82 319.16L50.02 319.14L50.22 319.10L50.42 319.03L50.62 318.90L50.82 318.70L51.02 318.39L51.22 317.91L51.42 317.19L51.62 316.15L51.82 314.69L52.02 312.68L52.22 310.02L52.42 306.58L52.62 302.27L52.82 297.06L53.02 290.93L53.22 283.98L53.42 276.39L53.62 268.40L53.83 260.35L54.03 252.62L54.23 245.61L54.43 239.67L54.63 235.10L54.83 232.07L55.03 230.64L55.23 230.71L55.43 232.08L55.63 234.48L55.83 237.59L56.03 241.14L56.23 244.91L56.43 248.77L56.63 252.70L56.83 256.75L57.03 260.99L57.23 265.52L57.43 270.38L57.63 275.56L57.83 280.98L58.03 286.48L58.23 291.88L58.43 296.99L58.63 301.65L58.83 305.73L59.03 309.17L59.23 311.95L59.43 314.13L59.63 315.76L59.83 316.94L60.03 317.76L60.23 318.31L60.43 318.67L60.63 318.89L60.83 319.03L61.03 319.10L61.23 319.14L61.43 319.15L61.63 319.12L61.84 319.07L62.04 318.95L62.24 318.73L62.44 318.35L62.64 317.73L62.84 316.75L63.04 315.26L63.24 313.10L63.44 310.12L63.64 306.20L63.84 301.29L64.04 295.46L64.24 288.92L64.44 282.04L64.64 275.32L64.84 269.36L65.04 264.72L65.24 261.92L65.44 261.24L65.64 262.78L65.84 266.36L66.04 271.59L66.24 277.92L66.44 284.77L66.64 291.57L66.84 297.86L67.04 303.35L67.24 307.87L67.44 311.41L67.64 314.04L67.84 315.92L68.04 317.19L68.24 318.02L68.44 318.53L68.64 318.83L68.84 319.01L69.04 319.10L69.24 319.15L69.44 319.18L69.64 319.19L69.85 319.20L70.05 319.20L70.25 319.20L70.45 319.20L70.65 319.20L70.85 319.20L71.05 319.20L71.25 319.20L71.45 319.20L71.65 319.20L71.85 319.20L72.05 319.20L72.25 319.20L72.45 319.20L72.65 319.20L72.85 319.20L73.05 319.20L73.25 319.20L73.45 319.20L73.65 319.20L73.85 319.20L74.05 319.20L74.25 319.20L74.45 319.20L74.65 319.20L74.85 319.20L75.05 319.20L75.25 319.20L75.45 319.20L75.65 319.20L75.85 319.20L76.05 319.20L76.25 319.20L76.45 319.20L76.65 319.20L76.85 319.20L77.05 319.20L77.25 319.20L77.45 319.20L77.65 319.20L77.86 319.20L78.06 319.20L78.26 319.20L78.46 319.20L78.66 319.20L78.86 319.20L79.06 319.20L79.26 319.20L79.46 319.20L79.66 319.20L79.86 319.20L80.06 319.20L80.26 319.20L80.46 319.20L80.66 319.20L80.86 319.20L81.06 319.20L81.26 319.20L81.46 319.20L81.66 319.20L81.86 319.19L82.06 319.18L82.26 319.15L82.46 319.10L82.66 319.00L82.86 318.83L83.06 318.54L83.26 318.07L83.46 317.35L83.66 316.31L83.86 314.89L84.06 313.07L84.26 310.87L84.46 308.39L84.66 305.80L84.86 303.33L85.06 301.25L85.26 299.80L85.46 299.17L85.66 299.43L85.87 300.53L86.07 302.32L86.27 304.54L86.47 306.92L86.67 309.20L86.87 311.16L87.07 312.69L87.27 313.73L87.47 314.32L87.67 314.55L87.87 314.53L88.07 314.38L88.27 314.21L88.47 314.11L88.67 314.15L88.87 314.34L89.07 314.69L89.27 315.16L89.47 315.72L89.67 316.32L89.87 316.90L90.07 317.43L90.27 317.90L90.47 318.27L90.67 318.57L90.87 318.78L91.07 318.94L91.27 319.04L91.47 319.11L91.67 319.15L91.87 319.17L92.07 319.18L92.27 319.19L92.47 319.20L92.67 319.20L92.87 319.20L93.07 319.20L93.27 319.20L93.47 319.20L93.67 319.20L93.88 319.20L94.08 319.20L94.28 319.20L94.48 319.20L94.68 319.20L94.88 319.20L95.08 319.20L95.28 319.20L95.48 319.20L95.68 319.20L95.88 319.20L96.08 319.20L96.28 319.20L96.48 319.20L96.68 319.20L96.88 319.20L97.08 319.20L97.28 319.20L97.48 319.20L97.68 319.20L97.88 319.20L98.08 319.20L98.28 319.20L98.48 319.20L98.68 319.20L98.88 319.20L99.08 319.20L99.28 319.20L99.48 319.20L99.68 319.20L99.88 319.20L100.08 319.20L100.28 319.20L100.48 319.20L100.68 319.20L100.88 319.20L101.08 319.20L101.28 319.20L101.48 319.20L101.68 319.20L101.89 319.20L102.09 319.20L102.29 319.20L102.49 319.20L102.69 319.20L102.89 319.20L103.09 319.20L103.29 319.20L103.49 319.20L103.69 319.20L103.89 319.20L104.09 319.20L104.29 319.20L104.49 319.20L104.69 319.20L104.89 319.20L105.09 319.20L105.29 319.20L105.49 319.20L105.69 319.20L105.89 319.20L106.09 319.20L106.29 319.20L106.49 319.20L106.69 319.20L106.89 319.20L107.09 319.20L107.29 319.20L107.49 319.20L107.69 319.20L107.89 319.20L108.09 319.20L108.29 319.20L108.49 319.20L108.69 319.20L108.89 319.20L109.09 319.20L109.29 319.20L109.49 319.20L109.69 319.20L109.90 319.20L110.10 319.20L110.30 319.20L110.50 319.20L110.70 319.20L110.90 319.20L111.10 319.20L111.30 319.20L111.50 319.20L111.70 319.20L111.90 319.20L112.10 319.20L112.30 319.20L112.50 319.20L112.70 319.20L112.90 319.20L113.10 319.20L113.30 319.20L113.50 319.20L113.70 319.20" fill="none" stroke="#000" stroke-width="1.4" stroke-linejoin="round"/>
<text x="24.50" y="188.75" font-size="10.5" text-anchor="middle" font-weight="normal" >1</text>
<text x="24.50" y="323.75" font-size="10.5" text-anchor="middle" font-weight="normal" >0</text>
<text x="53.80" y="334.95" font-size="10.5" text-anchor="middle" font-weight="normal" >300</text>
<text x="98.20" y="334.95" font-size="10.5" text-anchor="middle" font-weight="normal" >400</text>
<text x="143.60" y="334.95" font-size="10.5" text-anchor="middle" font-weight="normal" >500</text>
<text x="190.40" y="334.95" font-size="10.5" text-anchor="middle" font-weight="normal" >600</text>
<text x="85.90" y="294.30" font-size="10.25" text-anchor="middle" font-weight="normal" >368</text>
<text x="98.20" y="311.50" font-size="10.25" text-anchor="middle" font-weight="normal" >375</text>
<text x="25.00" y="248.80" font-size="10.3" text-anchor="middle" font-weight="normal" transform="rotate(-90 25.00 248.80)" textLength="89.5" lengthAdjust="spacingAndGlyphs">Oscillator strength f</text>
<text x="110.20" y="348.90" font-size="10.3" text-anchor="middle" font-weight="normal" textLength="72.7" lengthAdjust="spacingAndGlyphs">wavelength /nm</text>
<path d="M231.50 186.40 V320.00" fill="none" stroke="#000" stroke-width="1.1"/>
<path d="M231.00 319.50 H384.50" fill="none" stroke="#222" stroke-width="0.95"/>
<clipPath id="c8"><rect x="231.20" y="182.40" width="154.70" height="137.75"/></clipPath>
<line x1="231.50" y1="186.50" x2="233.70" y2="186.50" stroke="#000" stroke-width="0.9"/>
<line x1="231.50" y1="199.50" x2="233.70" y2="199.50" stroke="#000" stroke-width="0.9"/>
<line x1="231.50" y1="213.50" x2="233.70" y2="213.50" stroke="#000" stroke-width="0.9"/>
<line x1="231.50" y1="226.50" x2="233.70" y2="226.50" stroke="#000" stroke-width="0.9"/>
<line x1="231.50" y1="239.50" x2="233.70" y2="239.50" stroke="#000" stroke-width="0.9"/>
<line x1="231.50" y1="252.50" x2="233.70" y2="252.50" stroke="#000" stroke-width="0.9"/>
<line x1="231.50" y1="266.50" x2="233.70" y2="266.50" stroke="#000" stroke-width="0.9"/>
<line x1="231.50" y1="279.50" x2="233.70" y2="279.50" stroke="#000" stroke-width="0.9"/>
<line x1="231.50" y1="292.50" x2="233.70" y2="292.50" stroke="#000" stroke-width="0.9"/>
<line x1="231.50" y1="306.50" x2="233.70" y2="306.50" stroke="#000" stroke-width="0.9"/>
<line x1="231.50" y1="319.50" x2="233.70" y2="319.50" stroke="#000" stroke-width="0.9"/>
<line x1="253.50" y1="319.50" x2="253.50" y2="317.60" stroke="#555" stroke-width="0.8"/>
<line x1="275.50" y1="319.50" x2="275.50" y2="317.60" stroke="#555" stroke-width="0.8"/>
<line x1="297.50" y1="319.50" x2="297.50" y2="317.60" stroke="#555" stroke-width="0.8"/>
<line x1="319.50" y1="319.50" x2="319.50" y2="317.60" stroke="#555" stroke-width="0.8"/>
<line x1="340.50" y1="319.50" x2="340.50" y2="317.60" stroke="#555" stroke-width="0.8"/>
<line x1="362.50" y1="319.50" x2="362.50" y2="317.60" stroke="#555" stroke-width="0.8"/>
<line x1="384.50" y1="319.50" x2="384.50" y2="317.60" stroke="#555" stroke-width="0.8"/>
<path clip-path="url(#c8)" d="M231.80 309.70L232.00 309.23L232.20 308.57L232.40 307.56L232.60 306.01L232.80 303.75L233.00 300.62L233.20 296.51L233.40 291.35L233.60 285.16L233.81 278.02L234.01 270.09L234.21 261.63L234.41 252.95L234.61 244.43L234.81 236.49L235.01 229.53L235.21 223.94L235.41 220.06L235.61 218.11L235.81 218.21L236.01 220.36L236.21 224.43L236.41 230.19L236.61 237.29L236.81 245.36L237.01 253.99L237.21 262.80L237.41 271.41L237.61 279.54L237.81 286.97L238.02 293.55L238.22 299.22L238.42 303.97L238.62 307.85L238.82 310.93L239.02 313.31L239.22 315.10L239.42 316.40L239.62 317.31L239.82 317.89L240.02 318.20L240.22 318.27L240.42 318.11L240.62 317.70L240.82 317.02L241.02 316.00L241.22 314.57L241.42 312.64L241.62 310.13L241.83 306.95L242.03 303.01L242.23 298.28L242.43 292.74L242.63 286.43L242.83 279.46L243.03 272.01L243.23 264.31L243.43 256.66L243.63 249.40L243.83 242.88L244.03 237.46L244.23 233.44L244.43 231.04L244.63 230.42L244.83 231.62L245.03 234.55L245.23 239.05L245.43 244.86L245.63 251.65L245.84 259.07L246.04 266.77L246.24 274.42L246.44 281.75L246.64 288.52L246.84 294.59L247.04 299.88L247.24 304.36L247.44 308.05L247.64 311.02L247.84 313.35L248.04 315.12L248.24 316.45L248.44 317.41L248.64 318.10L248.84 318.57L249.04 318.88L249.24 319.07L249.44 319.18L249.64 319.20L249.84 319.15L250.05 319.03L250.25 318.83L250.45 318.52L250.65 318.09L250.85 317.50L251.05 316.74L251.25 315.78L251.45 314.62L251.65 313.27L251.85 311.75L252.05 310.12L252.25 308.43L252.45 306.79L252.65 305.28L252.85 304.01L253.05 303.07L253.25 302.52L253.45 302.42L253.65 302.76L253.86 303.53L254.06 304.66L254.26 306.07L254.46 307.66L254.66 309.34L254.86 311.01L255.06 312.59L255.26 314.02L255.46 315.27L255.66 316.32L255.86 317.17L256.06 317.84L256.26 318.35L256.46 318.72L256.66 318.98L256.86 319.16L257.06 319.28L257.26 319.35L257.46 319.38L257.66 319.37L257.87 319.32L258.07 319.21L258.27 319.03L258.47 318.74L258.67 318.29L258.87 317.62L259.07 316.66L259.27 315.31L259.47 313.49L259.67 311.10L259.87 308.07L260.07 304.35L260.27 299.95L260.47 294.93L260.67 289.43L260.87 283.66L261.07 277.90L261.27 272.48L261.47 267.74L261.67 264.01L261.88 261.57L262.08 260.61L262.28 261.20L262.48 263.29L262.68 266.72L262.88 271.24L263.08 276.53L263.28 282.24L263.48 288.03L263.68 293.62L263.88 298.78L264.08 303.34L264.28 307.22L264.48 310.42L264.68 312.96L264.88 314.91L265.08 316.37L265.28 317.42L265.48 318.15L265.68 318.65L265.88 318.98L266.09 319.19L266.29 319.32L266.49 319.40L266.69 319.44L266.89 319.47L267.09 319.48L267.29 319.49L267.49 319.50L267.69 319.50L267.89 319.50L268.09 319.50L268.29 319.50L268.49 319.50L268.69 319.50L268.89 319.50L269.09 319.50L269.29 319.50L269.49 319.50L269.69 319.50L269.89 319.50L270.10 319.50L270.30 319.50L270.50 319.50L270.70 319.50L270.90 319.50L271.10 319.50L271.30 319.50L271.50 319.50L271.70 319.50L271.90 319.50L272.10 319.50L272.30 319.50L272.50 319.50L272.70 319.50L272.90 319.50L273.10 319.50L273.30 319.50L273.50 319.50L273.70 319.50L273.90 319.50L274.11 319.50L274.31 319.50L274.51 319.50L274.71 319.50L274.91 319.50L275.11 319.50L275.31 319.50L275.51 319.50L275.71 319.50L275.91 319.50L276.11 319.50L276.31 319.50L276.51 319.50L276.71 319.50L276.91 319.50L277.11 319.50L277.31 319.50L277.51 319.50L277.71 319.49L277.92 319.49L278.12 319.48L278.32 319.47L278.52 319.45L278.72 319.42L278.92 319.37L279.12 319.30L279.32 319.22L279.52 319.10L279.72 318.96L279.92 318.78L280.12 318.58L280.32 318.37L280.52 318.15L280.72 317.94L280.92 317.76L281.12 317.61L281.32 317.53L281.52 317.50L281.72 317.54L281.93 317.64L282.13 317.80L282.33 317.99L282.53 318.20L282.73 318.42L282.93 318.63L283.13 318.83L283.33 318.99L283.53 319.13L283.73 319.24L283.93 319.32L284.13 319.38L284.33 319.42L284.53 319.45L284.73 319.46L284.93 319.46L285.13 319.45L285.33 319.42L285.53 319.36L285.73 319.26L285.94 319.10L286.14 318.84L286.34 318.45L286.54 317.88L286.74 317.07L286.94 315.96L287.14 314.50L287.34 312.65L287.54 310.40L287.74 307.78L287.94 304.85L288.14 301.75L288.34 298.64L288.54 295.72L288.74 293.21L288.94 291.30L289.14 290.18L289.34 289.92L289.54 290.56L289.74 292.04L289.94 294.23L290.15 296.95L290.35 299.98L290.55 303.11L290.75 306.15L290.95 308.96L291.15 311.42L291.35 313.50L291.55 315.18L291.75 316.48L291.95 317.45L292.15 318.15L292.35 318.64L292.55 318.97L292.75 319.18L292.95 319.31L293.15 319.40L293.35 319.44L293.55 319.47L293.75 319.48L293.95 319.49L294.16 319.50L294.36 319.50L294.56 319.50L294.76 319.50L294.96 319.50L295.16 319.50L295.36 319.50L295.56 319.50L295.76 319.50L295.96 319.50L296.16 319.50L296.36 319.50L296.56 319.50L296.76 319.50L296.96 319.50L297.16 319.50L297.36 319.50L297.56 319.50L297.76 319.50L297.97 319.50L298.17 319.50L298.37 319.50L298.57 319.50L298.77 319.50L298.97 319.50L299.17 319.50L299.37 319.50L299.57 319.50L299.77 319.50L299.97 319.50L300.17 319.50L300.37 319.50L300.57 319.50L300.77 319.50L300.97 319.50L301.17 319.50L301.37 319.50L301.57 319.50L301.77 319.50L301.98 319.50L302.18 319.50L302.38 319.50L302.58 319.50L302.78 319.50L302.98 319.50L303.18 319.50L303.38 319.50L303.58 319.50L303.78 319.50L303.98 319.50L304.18 319.50L304.38 319.50L304.58 319.50L304.78 319.50L304.98 319.50L305.18 319.50L305.38 319.50L305.58 319.50L305.78 319.50L305.99 319.50L306.19 319.50L306.39 319.50L306.59 319.50L306.79 319.50L306.99 319.50L307.19 319.50L307.39 319.50L307.59 319.50L307.79 319.50L307.99 319.50L308.19 319.50L308.39 319.50L308.59 319.50L308.79 319.50L308.99 319.50L309.19 319.50L309.39 319.50L309.59 319.50L309.79 319.50L310.00 319.50L310.20 319.50L310.40 319.50L310.60 319.50L310.80 319.50L311.00 319.50L311.20 319.50L311.40 319.50L311.60 319.50L311.80 319.50L312.00 319.50" fill="none" stroke="#000" stroke-width="1.4" stroke-linejoin="round"/>
<text x="222.50" y="189.25" font-size="10.5" text-anchor="middle" font-weight="normal" >1</text>
<text x="222.50" y="323.75" font-size="10.5" text-anchor="middle" font-weight="normal" >0</text>
<text x="253.00" y="335.95" font-size="10.5" text-anchor="middle" font-weight="normal" >300</text>
<text x="296.50" y="335.95" font-size="10.5" text-anchor="middle" font-weight="normal" >400</text>
<text x="340.60" y="335.95" font-size="10.5" text-anchor="middle" font-weight="normal" >500</text>
<text x="385.70" y="335.95" font-size="10.5" text-anchor="middle" font-weight="normal" >600</text>
<text x="289.30" y="287.30" font-size="10.25" text-anchor="middle" font-weight="normal" >383</text>
<text x="221.30" y="248.80" font-size="10.3" text-anchor="middle" font-weight="normal" transform="rotate(-90 221.30 248.80)" textLength="89.5" lengthAdjust="spacingAndGlyphs">Oscillator strength f</text>
<text x="310.00" y="349.30" font-size="10.3" text-anchor="middle" font-weight="normal" textLength="72.7" lengthAdjust="spacingAndGlyphs">wavelength /nm</text>
<path d="M426.50 182.20 V318.00" fill="none" stroke="#000" stroke-width="1.1"/>
<path d="M426.00 317.50 H578.50" fill="none" stroke="#222" stroke-width="0.95"/>
<clipPath id="c9"><rect x="425.40" y="178.20" width="154.50" height="139.85"/></clipPath>
<line x1="426.50" y1="182.50" x2="428.70" y2="182.50" stroke="#000" stroke-width="0.9"/>
<line x1="426.50" y1="195.50" x2="428.70" y2="195.50" stroke="#000" stroke-width="0.9"/>
<line x1="426.50" y1="209.50" x2="428.70" y2="209.50" stroke="#000" stroke-width="0.9"/>
<line x1="426.50" y1="222.50" x2="428.70" y2="222.50" stroke="#000" stroke-width="0.9"/>
<line x1="426.50" y1="236.50" x2="428.70" y2="236.50" stroke="#000" stroke-width="0.9"/>
<line x1="426.50" y1="249.50" x2="428.70" y2="249.50" stroke="#000" stroke-width="0.9"/>
<line x1="426.50" y1="263.50" x2="428.70" y2="263.50" stroke="#000" stroke-width="0.9"/>
<line x1="426.50" y1="276.50" x2="428.70" y2="276.50" stroke="#000" stroke-width="0.9"/>
<line x1="426.50" y1="290.50" x2="428.70" y2="290.50" stroke="#000" stroke-width="0.9"/>
<line x1="426.50" y1="303.50" x2="428.70" y2="303.50" stroke="#000" stroke-width="0.9"/>
<line x1="426.50" y1="317.50" x2="428.70" y2="317.50" stroke="#000" stroke-width="0.9"/>
<line x1="447.50" y1="317.50" x2="447.50" y2="315.60" stroke="#555" stroke-width="0.8"/>
<line x1="469.50" y1="317.50" x2="469.50" y2="315.60" stroke="#555" stroke-width="0.8"/>
<line x1="491.50" y1="317.50" x2="491.50" y2="315.60" stroke="#555" stroke-width="0.8"/>
<line x1="513.50" y1="317.50" x2="513.50" y2="315.60" stroke="#555" stroke-width="0.8"/>
<line x1="534.50" y1="317.50" x2="534.50" y2="315.60" stroke="#555" stroke-width="0.8"/>
<line x1="556.50" y1="317.50" x2="556.50" y2="315.60" stroke="#555" stroke-width="0.8"/>
<line x1="578.50" y1="317.50" x2="578.50" y2="315.60" stroke="#555" stroke-width="0.8"/>
<path clip-path="url(#c9)" d="M426.05 307.07C426.32 304.38 427.16 297.66 427.66 290.93C428.17 284.21 428.67 271.78 429.08 266.73C429.48 261.69 429.75 260.18 430.08 260.68C430.42 261.19 430.82 267.91 431.09 269.76C431.36 271.61 431.39 271.94 431.70 271.78C432.00 271.61 432.57 267.91 432.91 268.75C433.24 269.59 433.44 273.12 433.71 276.82C433.98 280.52 434.18 285.89 434.52 290.93C434.86 295.98 435.36 303.88 435.73 307.07C436.10 310.26 436.34 311.44 436.74 310.09C437.14 308.75 437.68 303.54 438.15 299.00C438.62 294.46 439.23 286.06 439.56 282.87C439.90 279.67 439.90 279.17 440.17 279.84C440.44 280.52 440.91 285.05 441.18 286.90C441.44 288.75 441.48 292.28 441.78 290.93C442.08 289.59 442.59 282.20 442.99 278.83C443.39 275.47 443.83 269.42 444.20 270.77C444.57 272.11 444.87 280.85 445.21 286.90C445.54 292.95 445.95 303.03 446.22 307.07C446.49 311.10 446.55 311.77 446.82 311.10C447.09 310.43 447.49 306.90 447.83 303.03C448.17 299.17 448.54 291.00 448.84 287.91C449.14 284.82 449.38 283.30 449.65 284.48C449.91 285.66 450.15 290.20 450.45 294.97C450.75 299.74 451.16 309.42 451.46 313.12C451.76 316.82 451.46 316.48 452.27 317.15C453.07 317.82 455.46 318.50 456.30 317.15C457.14 315.81 456.91 314.46 457.31 309.08C457.71 303.71 458.25 292.28 458.72 284.88C459.19 277.49 459.73 266.73 460.13 264.72C460.54 262.70 460.84 268.41 461.14 272.78C461.44 277.15 461.64 284.55 461.95 290.93C462.25 297.32 462.65 306.80 462.96 311.10C463.26 315.40 461.34 315.74 463.76 316.75C466.18 317.76 475.02 317.42 477.48 317.15C479.93 316.88 478.08 315.91 478.48 315.13C478.89 314.36 479.46 312.35 479.90 312.51C480.33 312.68 480.74 315.71 481.11 316.14C481.48 316.58 481.74 316.98 482.11 315.13C482.48 313.29 482.92 308.24 483.32 305.05C483.73 301.86 484.20 297.89 484.53 295.98C484.87 294.06 485.07 293.05 485.34 293.56C485.61 294.06 485.84 296.08 486.15 299.00C486.45 301.93 486.82 308.14 487.16 311.10C487.49 314.06 487.76 315.74 488.16 316.75C488.57 317.76 487.49 317.08 489.58 317.15C491.66 317.22 498.82 317.15 500.67 317.15" fill="none" stroke="#000" stroke-width="1.4" stroke-linejoin="round"/>
<text x="415.80" y="188.75" font-size="10.5" text-anchor="middle" font-weight="normal" >1</text>
<text x="415.30" y="322.05" font-size="10.5" text-anchor="middle" font-weight="normal" >0</text>
<text x="448.00" y="334.75" font-size="10.5" text-anchor="middle" font-weight="normal" >300</text>
<text x="491.50" y="334.75" font-size="10.5" text-anchor="middle" font-weight="normal" >400</text>
<text x="535.60" y="334.75" font-size="10.5" text-anchor="middle" font-weight="normal" >500</text>
<text x="580.40" y="334.75" font-size="10.5" text-anchor="middle" font-weight="normal" >600</text>
<text x="485.30" y="289.70" font-size="10.25" text-anchor="middle" font-weight="normal" >386</text>
<text x="416.00" y="249.00" font-size="10.3" text-anchor="middle" font-weight="normal" transform="rotate(-90 416.00 249.00)" textLength="89" lengthAdjust="spacingAndGlyphs">Oscillator strength f</text>
<text x="504.20" y="348.80" font-size="10.3" text-anchor="middle" font-weight="normal" textLength="72.7" lengthAdjust="spacingAndGlyphs">wavelength /nm</text>
<path d="M37.50 551.20 V689.00" fill="none" stroke="#000" stroke-width="1.1"/>
<path d="M37.00 688.50 H190.00" fill="none" stroke="#222" stroke-width="0.95"/>
<clipPath id="c10"><rect x="37.00" y="547.20" width="154.40" height="141.95"/></clipPath>
<line x1="37.50" y1="551.50" x2="39.70" y2="551.50" stroke="#000" stroke-width="0.9"/>
<line x1="37.50" y1="564.50" x2="39.70" y2="564.50" stroke="#000" stroke-width="0.9"/>
<line x1="37.50" y1="578.50" x2="39.70" y2="578.50" stroke="#000" stroke-width="0.9"/>
<line x1="37.50" y1="592.50" x2="39.70" y2="592.50" stroke="#000" stroke-width="0.9"/>
<line x1="37.50" y1="606.50" x2="39.70" y2="606.50" stroke="#000" stroke-width="0.9"/>
<line x1="37.50" y1="619.50" x2="39.70" y2="619.50" stroke="#000" stroke-width="0.9"/>
<line x1="37.50" y1="633.50" x2="39.70" y2="633.50" stroke="#000" stroke-width="0.9"/>
<line x1="37.50" y1="647.50" x2="39.70" y2="647.50" stroke="#000" stroke-width="0.9"/>
<line x1="37.50" y1="661.50" x2="39.70" y2="661.50" stroke="#000" stroke-width="0.9"/>
<line x1="37.50" y1="674.50" x2="39.70" y2="674.50" stroke="#000" stroke-width="0.9"/>
<line x1="37.50" y1="688.50" x2="39.70" y2="688.50" stroke="#000" stroke-width="0.9"/>
<line x1="59.50" y1="688.50" x2="59.50" y2="686.60" stroke="#555" stroke-width="0.8"/>
<line x1="81.50" y1="688.50" x2="81.50" y2="686.60" stroke="#555" stroke-width="0.8"/>
<line x1="102.50" y1="688.50" x2="102.50" y2="686.60" stroke="#555" stroke-width="0.8"/>
<line x1="124.50" y1="688.50" x2="124.50" y2="686.60" stroke="#555" stroke-width="0.8"/>
<line x1="146.50" y1="688.50" x2="146.50" y2="686.60" stroke="#555" stroke-width="0.8"/>
<line x1="168.50" y1="688.50" x2="168.50" y2="686.60" stroke="#555" stroke-width="0.8"/>
<line x1="190.50" y1="688.50" x2="190.50" y2="686.60" stroke="#555" stroke-width="0.8"/>
<path clip-path="url(#c10)" d="M37.60 682.28L37.80 681.73L38.00 681.20L38.20 680.70L38.40 680.23L38.60 679.82L38.80 679.46L39.00 679.18L39.20 678.97L39.40 678.84L39.60 678.80L39.80 678.84L40.00 678.97L40.20 679.18L40.40 679.46L40.60 679.82L40.80 680.23L41.00 680.70L41.20 681.20L41.40 681.73L41.60 682.28L41.80 682.83L42.00 683.38L42.20 683.92L42.40 684.43L42.60 684.92L42.80 685.38L43.00 685.81L43.20 686.19L43.40 686.54L43.60 686.85L43.80 687.12L44.00 687.35L44.20 687.55L44.40 687.71L44.60 687.84L44.80 687.92L45.00 687.97L45.20 687.97L45.40 687.92L45.60 687.79L45.80 687.58L46.00 687.27L46.20 686.82L46.40 686.20L46.60 685.37L46.80 684.31L47.00 682.97L47.20 681.33L47.40 679.35L47.60 677.03L47.80 674.38L48.00 671.43L48.20 668.23L48.40 664.86L48.60 661.42L48.80 658.04L49.00 654.85L49.20 651.99L49.40 649.60L49.60 647.80L49.80 646.68L50.00 646.30L50.20 646.68L50.40 647.80L50.60 649.60L50.80 651.99L51.00 654.84L51.20 658.02L51.40 661.38L51.60 664.78L51.80 668.09L52.00 671.18L52.20 673.95L52.40 676.29L52.60 678.12L52.80 679.35L53.00 679.88L53.20 679.59L53.40 678.35L53.60 676.04L53.80 672.50L54.00 667.62L54.20 661.32L54.40 653.60L54.60 644.57L54.80 634.45L55.00 623.62L55.20 612.58L55.40 601.92L55.60 592.32L55.80 584.42L56.00 578.79L56.20 575.86L56.40 575.87L56.60 578.80L56.80 584.44L57.00 592.36L57.20 601.98L57.40 612.67L57.60 623.77L57.80 634.68L58.00 644.92L58.20 654.13L58.40 662.09L58.60 668.74L58.80 674.10L59.00 678.27L59.20 681.42L59.40 683.71L59.60 685.33L59.80 686.42L60.00 687.11L60.20 687.50L60.40 687.66L60.60 687.64L60.80 687.46L61.00 687.13L61.20 686.65L61.40 686.02L61.60 685.26L61.80 684.37L62.00 683.40L62.20 682.38L62.40 681.37L62.60 680.45L62.80 679.68L63.00 679.13L63.20 678.84L63.40 678.84L63.60 679.13L63.80 679.68L64.00 680.45L64.20 681.37L64.40 682.38L64.60 683.40L64.80 684.38L65.00 685.27L65.20 686.04L65.40 686.69L65.60 687.20L65.80 687.60L66.00 687.89L66.20 688.10L66.40 688.25L66.60 688.35L66.80 688.41L67.00 688.45L67.20 688.47L67.40 688.48L67.60 688.49L67.80 688.49L68.00 688.49L68.20 688.49L68.40 688.48L68.60 688.45L68.80 688.42L69.00 688.35L69.20 688.24L69.40 688.06L69.60 687.78L69.80 687.35L70.00 686.72L70.20 685.81L70.40 684.56L70.60 682.89L70.80 680.74L71.00 678.05L71.20 674.83L71.40 671.11L71.60 667.00L71.80 662.66L72.00 658.31L72.20 654.21L72.40 650.64L72.60 647.87L72.80 646.10L73.00 645.50L73.20 646.10L73.40 647.87L73.60 650.64L73.80 654.21L74.00 658.31L74.20 662.66L74.40 667.00L74.60 671.11L74.80 674.83L75.00 678.05L75.20 680.74L75.40 682.89L75.60 684.56L75.80 685.81L76.00 686.72L76.20 687.35L76.40 687.78L76.60 688.06L76.80 688.24L77.00 688.35L77.20 688.42L77.40 688.45L77.60 688.48L77.80 688.49L78.00 688.49L78.20 688.50L78.40 688.50L78.60 688.50L78.80 688.50L79.00 688.50L79.20 688.50L79.40 688.50L79.60 688.50L79.80 688.50L80.00 688.50L80.20 688.50L80.40 688.50L80.60 688.50L80.80 688.50L81.00 688.50L81.20 688.50L81.40 688.50L81.60 688.50L81.80 688.50L82.00 688.50L82.20 688.50L82.40 688.50L82.60 688.50L82.80 688.50L83.00 688.50L83.20 688.50L83.40 688.50L83.60 688.50L83.80 688.50L84.00 688.50L84.20 688.50L84.40 688.50L84.60 688.50L84.80 688.50L85.00 688.50L85.20 688.50L85.40 688.50L85.60 688.50L85.80 688.50L86.00 688.50L86.20 688.50L86.40 688.50L86.60 688.50L86.80 688.50L87.00 688.50L87.20 688.50L87.40 688.50L87.60 688.50L87.80 688.50L88.00 688.50L88.20 688.50L88.40 688.50L88.60 688.50L88.80 688.50L89.00 688.50L89.20 688.50L89.40 688.49L89.60 688.49L89.80 688.48L90.00 688.46L90.20 688.42L90.40 688.37L90.60 688.30L90.80 688.18L91.00 688.02L91.20 687.80L91.40 687.53L91.60 687.18L91.80 686.78L92.00 686.34L92.20 685.87L92.40 685.41L92.60 685.01L92.80 684.68L93.00 684.47L93.20 684.40L93.40 684.47L93.60 684.68L93.80 685.01L94.00 685.41L94.20 685.87L94.40 686.33L94.60 686.78L94.80 687.18L95.00 687.52L95.20 687.79L95.40 687.99L95.60 688.13L95.80 688.21L96.00 688.22L96.20 688.16L96.40 688.03L96.60 687.79L96.80 687.43L97.00 686.90L97.20 686.16L97.40 685.17L97.60 683.89L97.80 682.30L98.00 680.39L98.20 678.19L98.40 675.75L98.60 673.18L98.80 670.60L99.00 668.16L99.20 666.05L99.40 664.40L99.60 663.36L99.80 663.00L100.00 663.36L100.20 664.40L100.40 666.05L100.60 668.16L100.80 670.60L101.00 673.18L101.20 675.75L101.40 678.19L101.60 680.39L101.80 682.30L102.00 683.90L102.20 685.17L102.40 686.16L102.60 686.91L102.80 687.44L103.00 687.82L103.20 688.07L103.40 688.24L103.60 688.35L103.80 688.41L104.00 688.45L104.20 688.47L104.40 688.49L104.60 688.49L104.80 688.50L105.00 688.50L105.20 688.50L105.40 688.50L105.60 688.50L105.80 688.50L106.00 688.50L106.20 688.50L106.40 688.50L106.60 688.50L106.80 688.50L107.00 688.50L107.20 688.50L107.40 688.50L107.60 688.50L107.80 688.50L108.00 688.50L108.20 688.50L108.40 688.50L108.60 688.50L108.80 688.50L109.00 688.50L109.20 688.50L109.40 688.50L109.60 688.50L109.80 688.50L110.00 688.50L110.20 688.50L110.40 688.50L110.60 688.50L110.80 688.50L111.00 688.50L111.20 688.50L111.40 688.50L111.60 688.50L111.80 688.50L112.00 688.50L112.20 688.50L112.40 688.50L112.60 688.50L112.80 688.50L113.00 688.50L113.20 688.50L113.40 688.50L113.60 688.50L113.80 688.50L114.00 688.50L114.20 688.50L114.40 688.50L114.60 688.50L114.80 688.50L115.00 688.50L115.20 688.50L115.40 688.50L115.60 688.50L115.80 688.50L116.00 688.50" fill="none" stroke="#000" stroke-width="1.4" stroke-linejoin="round"/>
<text x="24.50" y="555.25" font-size="10.5" text-anchor="middle" font-weight="normal" >1</text>
<text x="24.50" y="689.05" font-size="10.5" text-anchor="middle" font-weight="normal" >0</text>
<text x="57.20" y="704.35" font-size="10.5" text-anchor="middle" font-weight="normal" >300</text>
<text x="98.20" y="704.35" font-size="10.5" text-anchor="middle" font-weight="normal" >400</text>
<text x="143.60" y="704.35" font-size="10.5" text-anchor="middle" font-weight="normal" >500</text>
<text x="189.90" y="703.95" font-size="10.5" text-anchor="middle" font-weight="normal" >600</text>
<text x="99.60" y="658.90" font-size="10.25" text-anchor="middle" font-weight="normal" >393</text>
<text x="23.80" y="618.00" font-size="10.3" text-anchor="middle" font-weight="normal" transform="rotate(-90 23.80 618.00)" textLength="90" lengthAdjust="spacingAndGlyphs">Oscillator strength f</text>
<text x="110.20" y="713.30" font-size="10.3" text-anchor="middle" font-weight="normal" textLength="72.7" lengthAdjust="spacingAndGlyphs">wavelength /nm</text>
<path d="M230.50 546.60 V689.00" fill="none" stroke="#000" stroke-width="1.1"/>
<path d="M230.00 688.50 H387.30" fill="none" stroke="#222" stroke-width="0.95"/>
<clipPath id="c11"><rect x="230.10" y="542.60" width="158.60" height="146.75"/></clipPath>
<line x1="230.50" y1="546.50" x2="232.70" y2="546.50" stroke="#000" stroke-width="0.9"/>
<line x1="230.50" y1="560.50" x2="232.70" y2="560.50" stroke="#000" stroke-width="0.9"/>
<line x1="230.50" y1="575.50" x2="232.70" y2="575.50" stroke="#000" stroke-width="0.9"/>
<line x1="230.50" y1="589.50" x2="232.70" y2="589.50" stroke="#000" stroke-width="0.9"/>
<line x1="230.50" y1="603.50" x2="232.70" y2="603.50" stroke="#000" stroke-width="0.9"/>
<line x1="230.50" y1="617.50" x2="232.70" y2="617.50" stroke="#000" stroke-width="0.9"/>
<line x1="230.50" y1="631.50" x2="232.70" y2="631.50" stroke="#000" stroke-width="0.9"/>
<line x1="230.50" y1="646.50" x2="232.70" y2="646.50" stroke="#000" stroke-width="0.9"/>
<line x1="230.50" y1="660.50" x2="232.70" y2="660.50" stroke="#000" stroke-width="0.9"/>
<line x1="230.50" y1="674.50" x2="232.70" y2="674.50" stroke="#000" stroke-width="0.9"/>
<line x1="230.50" y1="688.50" x2="232.70" y2="688.50" stroke="#000" stroke-width="0.9"/>
<line x1="253.50" y1="688.50" x2="253.50" y2="686.60" stroke="#555" stroke-width="0.8"/>
<line x1="275.50" y1="688.50" x2="275.50" y2="686.60" stroke="#555" stroke-width="0.8"/>
<line x1="297.50" y1="688.50" x2="297.50" y2="686.60" stroke="#555" stroke-width="0.8"/>
<line x1="320.50" y1="688.50" x2="320.50" y2="686.60" stroke="#555" stroke-width="0.8"/>
<line x1="342.50" y1="688.50" x2="342.50" y2="686.60" stroke="#555" stroke-width="0.8"/>
<line x1="364.50" y1="688.50" x2="364.50" y2="686.60" stroke="#555" stroke-width="0.8"/>
<line x1="387.50" y1="688.50" x2="387.50" y2="686.60" stroke="#555" stroke-width="0.8"/>
<path clip-path="url(#c11)" d="M230.63 642.14C230.70 644.92 230.88 653.27 231.05 658.83C231.22 664.39 231.36 671.17 231.68 675.52C231.99 679.87 232.48 683.17 232.93 684.91C233.38 686.65 233.90 685.95 234.39 685.95C234.87 685.95 235.40 684.80 235.85 684.91C236.30 685.01 236.65 686.75 237.10 686.58C237.55 686.40 238.07 684.39 238.56 683.86C239.05 683.34 239.50 683.34 240.02 683.45C240.54 683.55 241.17 685.12 241.69 684.49C242.21 683.86 242.73 682.58 243.15 679.69C243.57 676.81 243.85 673.43 244.19 667.17C244.54 660.92 244.89 650.48 245.24 642.14C245.58 633.79 245.93 623.02 246.28 617.10C246.63 611.19 247.01 605.98 247.32 606.67C247.64 607.37 247.88 613.97 248.16 621.28C248.44 628.58 248.71 641.10 248.99 650.48C249.27 659.87 249.55 671.62 249.83 677.61C250.10 683.59 250.38 686.37 250.66 686.37C250.94 686.37 251.18 681.85 251.50 677.61C251.81 673.36 252.19 664.74 252.54 660.92C252.89 657.09 253.27 654.13 253.58 654.66C253.89 655.18 254.07 660.74 254.42 664.04C254.76 667.35 255.29 676.39 255.67 674.48C256.05 672.56 256.36 659.28 256.71 652.57C257.06 645.86 257.41 635.95 257.75 634.21C258.10 632.47 258.45 636.99 258.80 642.14C259.14 647.29 259.49 658.13 259.84 665.09C260.19 672.04 260.50 679.97 260.88 683.86C261.27 687.76 260.95 687.69 262.13 688.45C263.32 689.22 266.83 689.57 267.98 688.45C269.12 687.34 268.64 687.06 269.02 681.78C269.40 676.49 269.89 663.00 270.27 656.74C270.65 650.48 270.97 644.23 271.31 644.23C271.66 644.23 272.01 650.83 272.36 656.74C272.71 662.65 273.02 674.41 273.40 679.69C273.78 684.98 271.73 686.96 274.65 688.45C277.57 689.95 288.04 689.08 290.92 688.66C293.81 688.24 291.55 688.31 291.97 685.95C292.39 683.59 293.01 677.54 293.43 674.48C293.85 671.42 294.12 667.59 294.47 667.59C294.82 667.59 295.13 671.35 295.51 674.48C295.90 677.61 296.38 684.00 296.77 686.37C297.15 688.73 295.17 688.28 297.81 688.66C300.45 689.04 310.15 688.66 312.62 688.66" fill="none" stroke="#000" stroke-width="1.4" stroke-linejoin="round"/>
<text x="222.50" y="554.45" font-size="10.5" text-anchor="middle" font-weight="normal" >1</text>
<text x="222.50" y="689.25" font-size="10.5" text-anchor="middle" font-weight="normal" >0</text>
<text x="254.50" y="704.35" font-size="10.5" text-anchor="middle" font-weight="normal" >300</text>
<text x="297.10" y="704.35" font-size="10.5" text-anchor="middle" font-weight="normal" >400</text>
<text x="341.40" y="704.35" font-size="10.5" text-anchor="middle" font-weight="normal" >500</text>
<text x="386.50" y="704.35" font-size="10.5" text-anchor="middle" font-weight="normal" >600</text>
<text x="294.70" y="665.80" font-size="10.25" text-anchor="middle" font-weight="normal" >393</text>
<text x="220.50" y="618.00" font-size="10.3" text-anchor="middle" font-weight="normal" transform="rotate(-90 220.50 618.00)" textLength="90" lengthAdjust="spacingAndGlyphs">Oscillator strength f</text>
<text x="310.30" y="713.30" font-size="10.3" text-anchor="middle" font-weight="normal" textLength="72.7" lengthAdjust="spacingAndGlyphs">wavelength /nm</text>
<path d="M426.50 547.20 V689.00" fill="none" stroke="#000" stroke-width="1.1"/>
<path d="M426.00 688.50 H582.30" fill="none" stroke="#222" stroke-width="0.95"/>
<clipPath id="c12"><rect x="426.20" y="543.20" width="157.50" height="145.45"/></clipPath>
<line x1="426.50" y1="547.50" x2="428.70" y2="547.50" stroke="#000" stroke-width="0.9"/>
<line x1="426.50" y1="561.50" x2="428.70" y2="561.50" stroke="#000" stroke-width="0.9"/>
<line x1="426.50" y1="575.50" x2="428.70" y2="575.50" stroke="#000" stroke-width="0.9"/>
<line x1="426.50" y1="589.50" x2="428.70" y2="589.50" stroke="#000" stroke-width="0.9"/>
<line x1="426.50" y1="603.50" x2="428.70" y2="603.50" stroke="#000" stroke-width="0.9"/>
<line x1="426.50" y1="617.50" x2="428.70" y2="617.50" stroke="#000" stroke-width="0.9"/>
<line x1="426.50" y1="631.50" x2="428.70" y2="631.50" stroke="#000" stroke-width="0.9"/>
<line x1="426.50" y1="645.50" x2="428.70" y2="645.50" stroke="#000" stroke-width="0.9"/>
<line x1="426.50" y1="659.50" x2="428.70" y2="659.50" stroke="#000" stroke-width="0.9"/>
<line x1="426.50" y1="673.50" x2="428.70" y2="673.50" stroke="#000" stroke-width="0.9"/>
<line x1="426.50" y1="688.50" x2="428.70" y2="688.50" stroke="#000" stroke-width="0.9"/>
<line x1="449.50" y1="688.50" x2="449.50" y2="686.60" stroke="#555" stroke-width="0.8"/>
<line x1="471.50" y1="688.50" x2="471.50" y2="686.60" stroke="#555" stroke-width="0.8"/>
<line x1="493.50" y1="688.50" x2="493.50" y2="686.60" stroke="#555" stroke-width="0.8"/>
<line x1="515.50" y1="688.50" x2="515.50" y2="686.60" stroke="#555" stroke-width="0.8"/>
<line x1="537.50" y1="688.50" x2="537.50" y2="686.60" stroke="#555" stroke-width="0.8"/>
<line x1="560.50" y1="688.50" x2="560.50" y2="686.60" stroke="#555" stroke-width="0.8"/>
<line x1="582.50" y1="688.50" x2="582.50" y2="686.60" stroke="#555" stroke-width="0.8"/>
<path clip-path="url(#c12)" d="M426.68 686.99C426.88 686.30 427.41 683.97 427.93 682.82C428.45 681.67 429.21 680.35 429.81 680.11C430.40 679.87 430.95 680.46 431.47 681.36C432.00 682.26 432.48 684.77 432.93 685.53C433.39 686.30 433.80 688.31 434.19 685.95C434.57 683.59 434.88 675.87 435.23 671.35C435.58 666.83 435.96 661.44 436.27 658.83C436.59 656.22 436.83 654.66 437.11 655.70C437.39 656.74 437.66 661.85 437.94 665.09C438.22 668.32 438.46 675.80 438.78 675.10C439.09 674.41 439.44 664.60 439.82 660.92C440.20 657.23 440.69 652.29 441.07 652.99C441.45 653.68 441.73 660.29 442.11 665.09C442.50 669.89 442.88 678.06 443.37 681.78C443.85 685.50 444.34 686.37 445.03 687.41C445.73 688.45 446.91 690.02 447.54 688.04C448.16 686.05 448.37 684.21 448.79 675.52C449.21 666.83 449.66 647.70 450.04 635.88C450.42 624.06 450.77 610.92 451.08 604.59C451.40 598.26 451.61 597.56 451.92 597.91C452.23 598.26 452.61 604.52 452.96 606.67C453.31 608.83 453.66 607.72 454.01 610.85C454.35 613.97 454.67 617.45 455.05 625.45C455.43 633.45 455.88 649.44 456.30 658.83C456.72 668.22 457.13 676.91 457.55 681.78C457.97 686.65 458.11 686.99 458.80 688.04C459.50 689.08 461.06 689.08 461.72 688.04C462.39 686.99 462.42 684.39 462.77 681.78C463.12 679.17 463.50 674.37 463.81 672.39C464.12 670.41 464.37 669.36 464.65 669.89C464.92 670.41 465.13 672.84 465.48 675.52C465.83 678.20 466.31 683.86 466.73 685.95C467.15 688.04 465.69 687.69 467.98 688.04C470.28 688.38 478.28 688.73 480.50 688.04C482.73 687.34 481.02 686.12 481.34 683.86C481.65 681.60 482.07 676.67 482.38 674.48C482.69 672.29 482.90 670.20 483.21 670.72C483.53 671.24 483.91 674.89 484.26 677.61C484.60 680.32 484.95 685.25 485.30 686.99C485.65 688.73 482.62 687.86 486.34 688.04C490.06 688.21 504.08 688.04 507.62 688.04" fill="none" stroke="#000" stroke-width="1.4" stroke-linejoin="round"/>
<text x="416.00" y="555.45" font-size="10.5" text-anchor="middle" font-weight="normal" >1</text>
<text x="415.30" y="689.75" font-size="10.5" text-anchor="middle" font-weight="normal" >0</text>
<text x="448.00" y="704.35" font-size="10.5" text-anchor="middle" font-weight="normal" >300</text>
<text x="492.10" y="704.35" font-size="10.5" text-anchor="middle" font-weight="normal" >400</text>
<text x="535.60" y="704.35" font-size="10.5" text-anchor="middle" font-weight="normal" >500</text>
<text x="579.30" y="704.35" font-size="10.5" text-anchor="middle" font-weight="normal" >600</text>
<text x="483.20" y="667.40" font-size="10.25" text-anchor="middle" font-weight="normal" >378</text>
<text x="414.50" y="618.00" font-size="10.3" text-anchor="middle" font-weight="normal" transform="rotate(-90 414.50 618.00)" textLength="90" lengthAdjust="spacingAndGlyphs">Oscillator strength f</text>
<text x="503.60" y="713.30" font-size="10.3" text-anchor="middle" font-weight="normal" textLength="72.7" lengthAdjust="spacingAndGlyphs">wavelength /nm</text>
</svg></body></html>
